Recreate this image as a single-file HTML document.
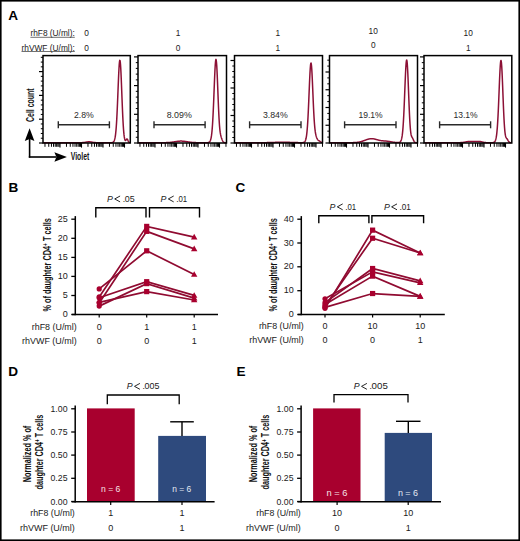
<!DOCTYPE html>
<html><head><meta charset="utf-8"><style>
html,body{margin:0;padding:0;background:#fff;}
svg{display:block;font-family:"Liberation Sans", sans-serif;}
</style></head><body>
<svg width="520" height="541" viewBox="0 0 520 541">
<rect width="520" height="541" fill="#fff"/>
<rect x="0.8" y="0.8" width="518.4" height="539.4" fill="none" stroke="#000" stroke-width="1.6"/>
<text x="8.2" y="19.6" font-size="13.6" text-anchor="start" font-weight="bold" fill="#000" >A</text>
<text x="8.6" y="191.5" font-size="13.6" text-anchor="start" font-weight="bold" fill="#000" >B</text>
<text x="235.6" y="191.8" font-size="13.6" text-anchor="start" font-weight="bold" fill="#000" >C</text>
<text x="8.3" y="375.5" font-size="13.6" text-anchor="start" font-weight="bold" fill="#000" >D</text>
<text x="236.4" y="375.5" font-size="13.6" text-anchor="start" font-weight="bold" fill="#000" >E</text>
<text x="74.8" y="36.4" font-size="8.3" text-anchor="end" font-weight="normal" fill="#1a1a1a" textLength="44.4" lengthAdjust="spacingAndGlyphs" >rhF8 (U/ml):</text>
<text x="74.8" y="50.7" font-size="8.3" text-anchor="end" font-weight="normal" fill="#1a1a1a" textLength="53.3" lengthAdjust="spacingAndGlyphs" >rhVWF (U/ml):</text>
<line x1="30.4" y1="37.3" x2="74.8" y2="37.3" stroke="#333" stroke-width="0.7"/>
<line x1="21.5" y1="51.5" x2="74.8" y2="51.5" stroke="#333" stroke-width="0.7"/>
<text x="86.5" y="36.4" font-size="8.3" text-anchor="middle" font-weight="normal" fill="#1a1a1a" >0</text>
<text x="86.5" y="50.7" font-size="8.3" text-anchor="middle" font-weight="normal" fill="#1a1a1a" >0</text>
<text x="178.0" y="36.4" font-size="8.3" text-anchor="middle" font-weight="normal" fill="#1a1a1a" >1</text>
<text x="178.0" y="50.7" font-size="8.3" text-anchor="middle" font-weight="normal" fill="#1a1a1a" >0</text>
<text x="277.7" y="36.4" font-size="8.3" text-anchor="middle" font-weight="normal" fill="#1a1a1a" >1</text>
<text x="277.7" y="50.7" font-size="8.3" text-anchor="middle" font-weight="normal" fill="#1a1a1a" >1</text>
<text x="373.2" y="33.8" font-size="8.3" text-anchor="middle" font-weight="normal" fill="#1a1a1a" >10</text>
<text x="373.2" y="48.3" font-size="8.3" text-anchor="middle" font-weight="normal" fill="#1a1a1a" >0</text>
<text x="468.2" y="36.1" font-size="8.3" text-anchor="middle" font-weight="normal" fill="#1a1a1a" >10</text>
<text x="468.2" y="50.6" font-size="8.3" text-anchor="middle" font-weight="normal" fill="#1a1a1a" >1</text>
<path d="M43.25,142.70 L43.50,142.70 L43.75,142.70 L44.00,142.70 L44.25,142.70 L44.50,142.70 L44.75,142.70 L45.00,142.70 L45.25,142.70 L45.50,142.70 L45.75,142.70 L46.00,142.70 L46.25,142.70 L46.50,142.70 L46.75,142.70 L47.00,142.70 L47.25,142.70 L47.50,142.70 L47.75,142.70 L48.00,142.70 L48.25,142.70 L48.50,142.70 L48.75,142.70 L49.00,142.70 L49.25,142.70 L49.50,142.70 L49.75,142.70 L50.00,142.70 L50.25,142.70 L50.50,142.70 L50.75,142.70 L51.00,142.70 L51.25,142.70 L51.50,142.70 L51.75,142.70 L52.00,142.70 L52.25,142.70 L52.50,142.70 L52.75,142.70 L53.00,142.70 L53.25,142.70 L53.50,142.70 L53.75,142.70 L54.00,142.70 L54.25,142.70 L54.50,142.70 L54.75,142.70 L55.00,142.70 L55.25,142.70 L55.50,142.70 L55.75,142.70 L56.00,142.70 L56.25,142.70 L56.50,142.70 L56.75,142.70 L57.00,142.70 L57.25,142.70 L57.50,142.70 L57.75,142.70 L58.00,142.70 L58.25,142.70 L58.50,142.70 L58.75,142.70 L59.00,142.70 L59.25,142.70 L59.50,142.70 L59.75,142.70 L60.00,142.70 L60.25,142.70 L60.50,142.70 L60.75,142.70 L61.00,142.70 L61.25,142.70 L61.50,142.70 L61.75,142.70 L62.00,142.70 L62.25,142.70 L62.50,142.70 L62.75,142.70 L63.00,142.70 L63.25,142.70 L63.50,142.70 L63.75,142.70 L64.00,142.70 L64.25,142.70 L64.50,142.70 L64.75,142.70 L65.00,142.70 L65.25,142.70 L65.50,142.70 L65.75,142.70 L66.00,142.70 L66.25,142.70 L66.50,142.70 L66.75,142.70 L67.00,142.70 L67.25,142.70 L67.50,142.70 L67.75,142.70 L68.00,142.70 L68.25,142.70 L68.50,142.70 L68.75,142.70 L69.00,142.70 L69.25,142.70 L69.50,142.70 L69.75,142.70 L70.00,142.70 L70.25,142.70 L70.50,142.70 L70.75,142.70 L71.00,142.70 L71.25,142.70 L71.50,142.70 L71.75,142.70 L72.00,142.70 L72.25,142.70 L72.50,142.70 L72.75,142.70 L73.00,142.70 L73.25,142.70 L73.50,142.70 L73.75,142.70 L74.00,142.70 L74.25,142.70 L74.50,142.70 L74.75,142.70 L75.00,142.70 L75.25,142.70 L75.50,142.70 L75.75,142.70 L76.00,142.70 L76.25,142.70 L76.50,142.70 L76.75,142.70 L77.00,142.70 L77.25,142.70 L77.50,142.70 L77.75,142.70 L78.00,142.70 L78.25,142.70 L78.50,142.70 L78.75,142.70 L79.00,142.70 L79.25,142.70 L79.50,142.69 L79.75,142.69 L80.00,142.69 L80.25,142.69 L80.50,142.68 L80.75,142.68 L81.00,142.67 L81.25,142.67 L81.50,142.66 L81.75,142.65 L82.00,142.64 L82.25,142.63 L82.50,142.61 L82.75,142.60 L83.00,142.58 L83.25,142.56 L83.50,142.53 L83.75,142.51 L84.00,142.48 L84.25,142.44 L84.50,142.41 L84.75,142.37 L85.00,142.33 L85.25,142.29 L85.50,142.24 L85.75,142.20 L86.00,142.15 L86.25,142.11 L86.50,142.06 L86.75,142.02 L87.00,141.98 L87.25,141.94 L87.50,141.91 L87.75,141.87 L88.00,141.85 L88.25,141.83 L88.50,141.81 L88.75,141.80 L89.00,141.80 L89.25,141.80 L89.50,141.81 L89.75,141.83 L90.00,141.85 L90.25,141.87 L90.50,141.91 L90.75,141.94 L91.00,141.98 L91.25,142.02 L91.50,142.06 L91.75,142.11 L92.00,142.15 L92.25,142.20 L92.50,142.24 L92.75,142.29 L93.00,142.33 L93.25,142.37 L93.50,142.41 L93.75,142.44 L94.00,142.48 L94.25,142.51 L94.50,142.53 L94.75,142.56 L95.00,142.58 L95.25,142.60 L95.50,142.61 L95.75,142.63 L96.00,142.64 L96.25,142.65 L96.50,142.66 L96.75,142.67 L97.00,142.67 L97.25,142.68 L97.50,142.68 L97.75,142.69 L98.00,142.69 L98.25,142.69 L98.50,142.69 L98.75,142.70 L99.00,142.70 L99.25,142.70 L99.50,142.70 L99.75,142.70 L100.00,142.70 L100.25,142.70 L100.50,142.70 L100.75,142.70 L101.00,142.70 L101.25,142.70 L101.50,142.70 L101.75,142.70 L102.00,142.70 L102.25,142.70 L102.50,142.70 L102.75,142.70 L103.00,142.70 L103.25,142.70 L103.50,142.70 L103.75,142.70 L104.00,142.70 L104.25,142.70 L104.50,142.70 L104.75,142.70 L105.00,142.70 L105.25,142.70 L105.50,142.70 L105.75,142.70 L106.00,142.70 L106.25,142.70 L106.50,142.70 L106.75,142.70 L107.00,142.70 L107.25,142.70 L107.50,142.70 L107.75,142.70 L108.00,142.70 L108.25,142.70 L108.50,142.70 L108.75,142.70 L109.00,142.70 L109.25,142.70 L109.50,142.70 L109.75,142.70 L110.00,142.70 L110.25,142.70 L110.50,142.69 L110.75,142.69 L111.00,142.68 L111.25,142.67 L111.50,142.65 L111.75,142.63 L112.00,142.59 L112.25,142.54 L112.50,142.47 L112.75,142.37 L113.00,142.24 L113.25,142.06 L113.50,141.83 L113.75,141.52 L114.00,141.11 L114.25,140.58 L114.50,139.90 L114.75,139.03 L115.00,137.92 L115.25,136.53 L115.50,134.80 L115.75,132.67 L116.00,130.08 L116.25,126.98 L116.50,123.33 L116.75,119.11 L117.00,114.32 L117.25,109.00 L117.50,103.22 L117.75,97.11 L118.00,90.82 L118.25,84.55 L118.50,78.53 L118.75,73.01 L119.00,68.22 L119.25,64.40 L119.50,61.74 L119.75,60.37 L120.00,60.38 L120.25,61.77 L120.50,64.47 L120.75,68.37 L121.00,73.27 L121.25,78.95 L121.50,85.17 L121.75,91.66 L122.00,98.20 L122.25,104.56 L122.50,110.57 L122.75,116.10 L123.00,121.05 L123.25,125.39 L123.50,129.08 L123.75,132.17 L124.00,134.68 L124.25,136.66 L124.50,138.17 L124.75,139.26 L125.00,139.98 L125.25,140.37 L125.50,140.47 L125.75,140.34 L126.00,140.04 L126.25,139.68 L126.50,139.33 L126.75,139.09 L127.00,139.02 L127.25,139.16 L127.50,139.50 L127.75,139.97 L128.00,140.51 L128.25,141.05 L128.50,141.53 L128.75,141.92 L129.00,142.21 L129.25,142.41 L129.50,142.54 L129.75,142.62 L130.00,142.66" fill="none" stroke="#8c1035" stroke-width="1.5" stroke-linejoin="round"/>
<rect x="43.0" y="55.6" width="87.30000000000001" height="87.4" fill="none" stroke="#000" stroke-width="1.5"/>
<line x1="39.0" y1="143.0" x2="43.0" y2="143.0" stroke="#000" stroke-width="1.2"/>
<line x1="40.8" y1="138.24" x2="43.0" y2="138.24" stroke="#000" stroke-width="1.0"/>
<line x1="40.8" y1="133.48" x2="43.0" y2="133.48" stroke="#000" stroke-width="1.0"/>
<line x1="40.8" y1="128.72" x2="43.0" y2="128.72" stroke="#000" stroke-width="1.0"/>
<line x1="40.8" y1="123.96000000000001" x2="43.0" y2="123.96000000000001" stroke="#000" stroke-width="1.0"/>
<line x1="39.0" y1="119.2" x2="43.0" y2="119.2" stroke="#000" stroke-width="1.2"/>
<line x1="40.8" y1="114.44" x2="43.0" y2="114.44" stroke="#000" stroke-width="1.0"/>
<line x1="40.8" y1="109.68" x2="43.0" y2="109.68" stroke="#000" stroke-width="1.0"/>
<line x1="40.8" y1="104.92" x2="43.0" y2="104.92" stroke="#000" stroke-width="1.0"/>
<line x1="40.8" y1="100.16" x2="43.0" y2="100.16" stroke="#000" stroke-width="1.0"/>
<line x1="39.0" y1="95.4" x2="43.0" y2="95.4" stroke="#000" stroke-width="1.2"/>
<line x1="40.8" y1="90.64" x2="43.0" y2="90.64" stroke="#000" stroke-width="1.0"/>
<line x1="40.8" y1="85.88" x2="43.0" y2="85.88" stroke="#000" stroke-width="1.0"/>
<line x1="40.8" y1="81.12" x2="43.0" y2="81.12" stroke="#000" stroke-width="1.0"/>
<line x1="40.8" y1="76.36" x2="43.0" y2="76.36" stroke="#000" stroke-width="1.0"/>
<line x1="39.0" y1="71.60000000000001" x2="43.0" y2="71.60000000000001" stroke="#000" stroke-width="1.2"/>
<line x1="40.8" y1="66.84" x2="43.0" y2="66.84" stroke="#000" stroke-width="1.0"/>
<line x1="40.8" y1="62.08" x2="43.0" y2="62.08" stroke="#000" stroke-width="1.0"/>
<line x1="40.8" y1="57.32000000000001" x2="43.0" y2="57.32000000000001" stroke="#000" stroke-width="1.0"/>
<line x1="60.0" y1="143.0" x2="60.0" y2="147.6" stroke="#000" stroke-width="1.1"/>
<line x1="44.9721449067756" y1="143.0" x2="44.9721449067756" y2="146.8" stroke="#000" stroke-width="1.0"/>
<line x1="48.758106976472746" y1="143.0" x2="48.758106976472746" y2="146.8" stroke="#000" stroke-width="1.0"/>
<line x1="51.444289813551194" y1="143.0" x2="51.444289813551194" y2="146.8" stroke="#000" stroke-width="1.0"/>
<line x1="53.5278550932244" y1="143.0" x2="53.5278550932244" y2="146.8" stroke="#000" stroke-width="1.0"/>
<line x1="55.23025188324834" y1="143.0" x2="55.23025188324834" y2="146.8" stroke="#000" stroke-width="1.0"/>
<line x1="56.66960786030652" y1="143.0" x2="56.66960786030652" y2="146.8" stroke="#000" stroke-width="1.0"/>
<line x1="57.91643472032679" y1="143.0" x2="57.91643472032679" y2="146.8" stroke="#000" stroke-width="1.0"/>
<line x1="59.016213952945485" y1="143.0" x2="59.016213952945485" y2="146.8" stroke="#000" stroke-width="1.0"/>
<line x1="81.5" y1="143.0" x2="81.5" y2="147.6" stroke="#000" stroke-width="1.1"/>
<line x1="66.4721449067756" y1="143.0" x2="66.4721449067756" y2="146.8" stroke="#000" stroke-width="1.0"/>
<line x1="70.25810697647275" y1="143.0" x2="70.25810697647275" y2="146.8" stroke="#000" stroke-width="1.0"/>
<line x1="72.9442898135512" y1="143.0" x2="72.9442898135512" y2="146.8" stroke="#000" stroke-width="1.0"/>
<line x1="75.0278550932244" y1="143.0" x2="75.0278550932244" y2="146.8" stroke="#000" stroke-width="1.0"/>
<line x1="76.73025188324834" y1="143.0" x2="76.73025188324834" y2="146.8" stroke="#000" stroke-width="1.0"/>
<line x1="78.16960786030651" y1="143.0" x2="78.16960786030651" y2="146.8" stroke="#000" stroke-width="1.0"/>
<line x1="79.41643472032679" y1="143.0" x2="79.41643472032679" y2="146.8" stroke="#000" stroke-width="1.0"/>
<line x1="80.51621395294549" y1="143.0" x2="80.51621395294549" y2="146.8" stroke="#000" stroke-width="1.0"/>
<line x1="103.0" y1="143.0" x2="103.0" y2="147.6" stroke="#000" stroke-width="1.1"/>
<line x1="87.9721449067756" y1="143.0" x2="87.9721449067756" y2="146.8" stroke="#000" stroke-width="1.0"/>
<line x1="91.75810697647275" y1="143.0" x2="91.75810697647275" y2="146.8" stroke="#000" stroke-width="1.0"/>
<line x1="94.4442898135512" y1="143.0" x2="94.4442898135512" y2="146.8" stroke="#000" stroke-width="1.0"/>
<line x1="96.5278550932244" y1="143.0" x2="96.5278550932244" y2="146.8" stroke="#000" stroke-width="1.0"/>
<line x1="98.23025188324834" y1="143.0" x2="98.23025188324834" y2="146.8" stroke="#000" stroke-width="1.0"/>
<line x1="99.66960786030651" y1="143.0" x2="99.66960786030651" y2="146.8" stroke="#000" stroke-width="1.0"/>
<line x1="100.91643472032679" y1="143.0" x2="100.91643472032679" y2="146.8" stroke="#000" stroke-width="1.0"/>
<line x1="102.01621395294549" y1="143.0" x2="102.01621395294549" y2="146.8" stroke="#000" stroke-width="1.0"/>
<line x1="124.5" y1="143.0" x2="124.5" y2="147.6" stroke="#000" stroke-width="1.1"/>
<line x1="109.4721449067756" y1="143.0" x2="109.4721449067756" y2="146.8" stroke="#000" stroke-width="1.0"/>
<line x1="113.25810697647275" y1="143.0" x2="113.25810697647275" y2="146.8" stroke="#000" stroke-width="1.0"/>
<line x1="115.9442898135512" y1="143.0" x2="115.9442898135512" y2="146.8" stroke="#000" stroke-width="1.0"/>
<line x1="118.0278550932244" y1="143.0" x2="118.0278550932244" y2="146.8" stroke="#000" stroke-width="1.0"/>
<line x1="119.73025188324834" y1="143.0" x2="119.73025188324834" y2="146.8" stroke="#000" stroke-width="1.0"/>
<line x1="121.16960786030651" y1="143.0" x2="121.16960786030651" y2="146.8" stroke="#000" stroke-width="1.0"/>
<line x1="122.41643472032679" y1="143.0" x2="122.41643472032679" y2="146.8" stroke="#000" stroke-width="1.0"/>
<line x1="123.51621395294549" y1="143.0" x2="123.51621395294549" y2="146.8" stroke="#000" stroke-width="1.0"/>
<line x1="58.3" y1="124.8" x2="109.4" y2="124.8" stroke="#2a2a2a" stroke-width="1.6"/>
<line x1="58.3" y1="121.3" x2="58.3" y2="128.3" stroke="#2a2a2a" stroke-width="1.4"/>
<line x1="109.4" y1="121.3" x2="109.4" y2="128.3" stroke="#2a2a2a" stroke-width="1.4"/>
<text x="74.0" y="117.5" font-size="9" text-anchor="start" font-weight="normal" fill="#2a2a2a" textLength="19.8" lengthAdjust="spacingAndGlyphs" >2.8%</text>
<path d="M138.25,142.70 L138.50,142.70 L138.75,142.70 L139.00,142.70 L139.25,142.70 L139.50,142.70 L139.75,142.70 L140.00,142.70 L140.25,142.70 L140.50,142.70 L140.75,142.70 L141.00,142.70 L141.25,142.70 L141.50,142.70 L141.75,142.70 L142.00,142.70 L142.25,142.70 L142.50,142.70 L142.75,142.70 L143.00,142.70 L143.25,142.70 L143.50,142.70 L143.75,142.70 L144.00,142.70 L144.25,142.70 L144.50,142.70 L144.75,142.70 L145.00,142.70 L145.25,142.70 L145.50,142.70 L145.75,142.70 L146.00,142.70 L146.25,142.70 L146.50,142.70 L146.75,142.70 L147.00,142.70 L147.25,142.70 L147.50,142.70 L147.75,142.70 L148.00,142.70 L148.25,142.70 L148.50,142.70 L148.75,142.70 L149.00,142.70 L149.25,142.70 L149.50,142.70 L149.75,142.70 L150.00,142.70 L150.25,142.70 L150.50,142.70 L150.75,142.70 L151.00,142.70 L151.25,142.70 L151.50,142.70 L151.75,142.70 L152.00,142.70 L152.25,142.70 L152.50,142.70 L152.75,142.70 L153.00,142.70 L153.25,142.70 L153.50,142.70 L153.75,142.70 L154.00,142.70 L154.25,142.70 L154.50,142.70 L154.75,142.70 L155.00,142.70 L155.25,142.70 L155.50,142.70 L155.75,142.70 L156.00,142.70 L156.25,142.70 L156.50,142.70 L156.75,142.70 L157.00,142.70 L157.25,142.70 L157.50,142.70 L157.75,142.70 L158.00,142.70 L158.25,142.70 L158.50,142.70 L158.75,142.70 L159.00,142.70 L159.25,142.70 L159.50,142.70 L159.75,142.70 L160.00,142.70 L160.25,142.70 L160.50,142.70 L160.75,142.69 L161.00,142.69 L161.25,142.69 L161.50,142.69 L161.75,142.69 L162.00,142.69 L162.25,142.69 L162.50,142.69 L162.75,142.68 L163.00,142.68 L163.25,142.68 L163.50,142.68 L163.75,142.67 L164.00,142.67 L164.25,142.67 L164.50,142.66 L164.75,142.66 L165.00,142.65 L165.25,142.65 L165.50,142.64 L165.75,142.64 L166.00,142.63 L166.25,142.62 L166.50,142.61 L166.75,142.60 L167.00,142.59 L167.25,142.58 L167.50,142.57 L167.75,142.56 L168.00,142.55 L168.25,142.53 L168.50,142.52 L168.75,142.50 L169.00,142.48 L169.25,142.46 L169.50,142.45 L169.75,142.42 L170.00,142.40 L170.25,142.38 L170.50,142.35 L170.75,142.33 L171.00,142.30 L171.25,142.27 L171.50,142.24 L171.75,142.21 L172.00,142.18 L172.25,142.15 L172.50,142.11 L172.75,142.08 L173.00,142.04 L173.25,142.01 L173.50,141.97 L173.75,141.93 L174.00,141.89 L174.25,141.85 L174.50,141.81 L174.75,141.77 L175.00,141.73 L175.25,141.69 L175.50,141.65 L175.75,141.61 L176.00,141.57 L176.25,141.53 L176.50,141.49 L176.75,141.45 L177.00,141.42 L177.25,141.38 L177.50,141.35 L177.75,141.32 L178.00,141.29 L178.25,141.26 L178.50,141.23 L178.75,141.21 L179.00,141.19 L179.25,141.17 L179.50,141.15 L179.75,141.13 L180.00,141.12 L180.25,141.11 L180.50,141.11 L180.75,141.10 L181.00,141.10 L181.25,141.10 L181.50,141.11 L181.75,141.11 L182.00,141.12 L182.25,141.13 L182.50,141.15 L182.75,141.17 L183.00,141.19 L183.25,141.21 L183.50,141.23 L183.75,141.26 L184.00,141.29 L184.25,141.32 L184.50,141.35 L184.75,141.38 L185.00,141.42 L185.25,141.45 L185.50,141.49 L185.75,141.53 L186.00,141.57 L186.25,141.61 L186.50,141.65 L186.75,141.69 L187.00,141.73 L187.25,141.77 L187.50,141.81 L187.75,141.85 L188.00,141.89 L188.25,141.93 L188.50,141.97 L188.75,142.01 L189.00,142.04 L189.25,142.08 L189.50,142.11 L189.75,142.15 L190.00,142.18 L190.25,142.21 L190.50,142.24 L190.75,142.27 L191.00,142.30 L191.25,142.33 L191.50,142.35 L191.75,142.38 L192.00,142.40 L192.25,142.42 L192.50,142.45 L192.75,142.46 L193.00,142.48 L193.25,142.50 L193.50,142.52 L193.75,142.53 L194.00,142.55 L194.25,142.56 L194.50,142.57 L194.75,142.58 L195.00,142.59 L195.25,142.60 L195.50,142.61 L195.75,142.62 L196.00,142.63 L196.25,142.64 L196.50,142.64 L196.75,142.65 L197.00,142.65 L197.25,142.66 L197.50,142.66 L197.75,142.67 L198.00,142.67 L198.25,142.67 L198.50,142.68 L198.75,142.68 L199.00,142.68 L199.25,142.68 L199.50,142.69 L199.75,142.69 L200.00,142.69 L200.25,142.69 L200.50,142.69 L200.75,142.69 L201.00,142.69 L201.25,142.69 L201.50,142.70 L201.75,142.70 L202.00,142.70 L202.25,142.70 L202.50,142.70 L202.75,142.70 L203.00,142.70 L203.25,142.70 L203.50,142.70 L203.75,142.70 L204.00,142.70 L204.25,142.70 L204.50,142.70 L204.75,142.70 L205.00,142.70 L205.25,142.70 L205.50,142.70 L205.75,142.70 L206.00,142.70 L206.25,142.70 L206.50,142.69 L206.75,142.69 L207.00,142.68 L207.25,142.67 L207.50,142.66 L207.75,142.64 L208.00,142.61 L208.25,142.56 L208.50,142.50 L208.75,142.41 L209.00,142.29 L209.25,142.14 L209.50,141.92 L209.75,141.64 L210.00,141.27 L210.25,140.79 L210.50,140.17 L210.75,139.37 L211.00,138.35 L211.25,137.07 L211.50,135.46 L211.75,133.48 L212.00,131.06 L212.25,128.14 L212.50,124.69 L212.75,120.66 L213.00,116.05 L213.25,110.88 L213.50,105.22 L213.75,99.16 L214.00,92.86 L214.25,86.50 L214.50,80.29 L214.75,74.48 L215.00,69.32 L215.25,65.05 L215.50,61.87 L215.75,59.96 L216.00,59.40 L216.25,60.25 L216.50,62.46 L216.75,65.92 L217.00,70.47 L217.25,75.90 L217.50,81.95 L217.75,88.36 L218.00,94.87 L218.25,101.25 L218.50,107.28 L218.75,112.82 L219.00,117.75 L219.25,122.01 L219.50,125.59 L219.75,128.51 L220.00,130.85 L220.25,132.71 L220.50,134.17 L220.75,135.34 L221.00,136.31 L221.25,137.15 L221.50,137.92 L221.75,138.63 L222.00,139.31 L222.25,139.94 L222.50,140.51 L222.75,141.01 L223.00,141.44 L223.25,141.79 L223.50,142.07 L223.75,142.27 L224.00,142.42 L224.25,142.53 L224.50,142.59 L224.75,142.64 L225.00,142.67 L225.25,142.68 L225.50,142.69 L225.75,142.70 L226.00,142.70 L226.25,142.70" fill="none" stroke="#8c1035" stroke-width="1.5" stroke-linejoin="round"/>
<rect x="138.0" y="55.6" width="88.5" height="87.4" fill="none" stroke="#000" stroke-width="1.5"/>
<line x1="134.0" y1="143.0" x2="138.0" y2="143.0" stroke="#000" stroke-width="1.2"/>
<line x1="135.8" y1="137.26" x2="138.0" y2="137.26" stroke="#000" stroke-width="1.0"/>
<line x1="135.8" y1="131.52" x2="138.0" y2="131.52" stroke="#000" stroke-width="1.0"/>
<line x1="135.8" y1="125.78" x2="138.0" y2="125.78" stroke="#000" stroke-width="1.0"/>
<line x1="135.8" y1="120.03999999999999" x2="138.0" y2="120.03999999999999" stroke="#000" stroke-width="1.0"/>
<line x1="134.0" y1="114.3" x2="138.0" y2="114.3" stroke="#000" stroke-width="1.2"/>
<line x1="135.8" y1="108.56" x2="138.0" y2="108.56" stroke="#000" stroke-width="1.0"/>
<line x1="135.8" y1="102.82" x2="138.0" y2="102.82" stroke="#000" stroke-width="1.0"/>
<line x1="135.8" y1="97.08" x2="138.0" y2="97.08" stroke="#000" stroke-width="1.0"/>
<line x1="135.8" y1="91.34" x2="138.0" y2="91.34" stroke="#000" stroke-width="1.0"/>
<line x1="134.0" y1="85.6" x2="138.0" y2="85.6" stroke="#000" stroke-width="1.2"/>
<line x1="135.8" y1="79.86" x2="138.0" y2="79.86" stroke="#000" stroke-width="1.0"/>
<line x1="135.8" y1="74.12" x2="138.0" y2="74.12" stroke="#000" stroke-width="1.0"/>
<line x1="135.8" y1="68.38" x2="138.0" y2="68.38" stroke="#000" stroke-width="1.0"/>
<line x1="135.8" y1="62.64" x2="138.0" y2="62.64" stroke="#000" stroke-width="1.0"/>
<line x1="134.0" y1="56.89999999999999" x2="138.0" y2="56.89999999999999" stroke="#000" stroke-width="1.2"/>
<line x1="155.0" y1="143.0" x2="155.0" y2="147.6" stroke="#000" stroke-width="1.1"/>
<line x1="139.97214490677558" y1="143.0" x2="139.97214490677558" y2="146.8" stroke="#000" stroke-width="1.0"/>
<line x1="143.75810697647273" y1="143.0" x2="143.75810697647273" y2="146.8" stroke="#000" stroke-width="1.0"/>
<line x1="146.4442898135512" y1="143.0" x2="146.4442898135512" y2="146.8" stroke="#000" stroke-width="1.0"/>
<line x1="148.52785509322442" y1="143.0" x2="148.52785509322442" y2="146.8" stroke="#000" stroke-width="1.0"/>
<line x1="150.23025188324834" y1="143.0" x2="150.23025188324834" y2="146.8" stroke="#000" stroke-width="1.0"/>
<line x1="151.6696078603065" y1="143.0" x2="151.6696078603065" y2="146.8" stroke="#000" stroke-width="1.0"/>
<line x1="152.91643472032678" y1="143.0" x2="152.91643472032678" y2="146.8" stroke="#000" stroke-width="1.0"/>
<line x1="154.0162139529455" y1="143.0" x2="154.0162139529455" y2="146.8" stroke="#000" stroke-width="1.0"/>
<line x1="176.5" y1="143.0" x2="176.5" y2="147.6" stroke="#000" stroke-width="1.1"/>
<line x1="161.47214490677558" y1="143.0" x2="161.47214490677558" y2="146.8" stroke="#000" stroke-width="1.0"/>
<line x1="165.25810697647273" y1="143.0" x2="165.25810697647273" y2="146.8" stroke="#000" stroke-width="1.0"/>
<line x1="167.9442898135512" y1="143.0" x2="167.9442898135512" y2="146.8" stroke="#000" stroke-width="1.0"/>
<line x1="170.02785509322442" y1="143.0" x2="170.02785509322442" y2="146.8" stroke="#000" stroke-width="1.0"/>
<line x1="171.73025188324834" y1="143.0" x2="171.73025188324834" y2="146.8" stroke="#000" stroke-width="1.0"/>
<line x1="173.1696078603065" y1="143.0" x2="173.1696078603065" y2="146.8" stroke="#000" stroke-width="1.0"/>
<line x1="174.41643472032678" y1="143.0" x2="174.41643472032678" y2="146.8" stroke="#000" stroke-width="1.0"/>
<line x1="175.5162139529455" y1="143.0" x2="175.5162139529455" y2="146.8" stroke="#000" stroke-width="1.0"/>
<line x1="198.0" y1="143.0" x2="198.0" y2="147.6" stroke="#000" stroke-width="1.1"/>
<line x1="182.97214490677558" y1="143.0" x2="182.97214490677558" y2="146.8" stroke="#000" stroke-width="1.0"/>
<line x1="186.75810697647273" y1="143.0" x2="186.75810697647273" y2="146.8" stroke="#000" stroke-width="1.0"/>
<line x1="189.4442898135512" y1="143.0" x2="189.4442898135512" y2="146.8" stroke="#000" stroke-width="1.0"/>
<line x1="191.52785509322442" y1="143.0" x2="191.52785509322442" y2="146.8" stroke="#000" stroke-width="1.0"/>
<line x1="193.23025188324834" y1="143.0" x2="193.23025188324834" y2="146.8" stroke="#000" stroke-width="1.0"/>
<line x1="194.6696078603065" y1="143.0" x2="194.6696078603065" y2="146.8" stroke="#000" stroke-width="1.0"/>
<line x1="195.91643472032678" y1="143.0" x2="195.91643472032678" y2="146.8" stroke="#000" stroke-width="1.0"/>
<line x1="197.0162139529455" y1="143.0" x2="197.0162139529455" y2="146.8" stroke="#000" stroke-width="1.0"/>
<line x1="219.5" y1="143.0" x2="219.5" y2="147.6" stroke="#000" stroke-width="1.1"/>
<line x1="204.47214490677558" y1="143.0" x2="204.47214490677558" y2="146.8" stroke="#000" stroke-width="1.0"/>
<line x1="208.25810697647273" y1="143.0" x2="208.25810697647273" y2="146.8" stroke="#000" stroke-width="1.0"/>
<line x1="210.9442898135512" y1="143.0" x2="210.9442898135512" y2="146.8" stroke="#000" stroke-width="1.0"/>
<line x1="213.02785509322442" y1="143.0" x2="213.02785509322442" y2="146.8" stroke="#000" stroke-width="1.0"/>
<line x1="214.73025188324834" y1="143.0" x2="214.73025188324834" y2="146.8" stroke="#000" stroke-width="1.0"/>
<line x1="216.1696078603065" y1="143.0" x2="216.1696078603065" y2="146.8" stroke="#000" stroke-width="1.0"/>
<line x1="217.41643472032678" y1="143.0" x2="217.41643472032678" y2="146.8" stroke="#000" stroke-width="1.0"/>
<line x1="218.5162139529455" y1="143.0" x2="218.5162139529455" y2="146.8" stroke="#000" stroke-width="1.0"/>
<line x1="225.97214490677558" y1="143.0" x2="225.97214490677558" y2="146.8" stroke="#000" stroke-width="1.0"/>
<line x1="154.0" y1="124.8" x2="205.1" y2="124.8" stroke="#2a2a2a" stroke-width="1.6"/>
<line x1="154.0" y1="121.3" x2="154.0" y2="128.3" stroke="#2a2a2a" stroke-width="1.4"/>
<line x1="205.1" y1="121.3" x2="205.1" y2="128.3" stroke="#2a2a2a" stroke-width="1.4"/>
<text x="166.7" y="117.5" font-size="9" text-anchor="start" font-weight="normal" fill="#2a2a2a" textLength="25.1" lengthAdjust="spacingAndGlyphs" >8.09%</text>
<path d="M234.75,142.70 L235.00,142.70 L235.25,142.70 L235.50,142.70 L235.75,142.70 L236.00,142.70 L236.25,142.70 L236.50,142.70 L236.75,142.70 L237.00,142.70 L237.25,142.70 L237.50,142.70 L237.75,142.70 L238.00,142.70 L238.25,142.70 L238.50,142.70 L238.75,142.70 L239.00,142.70 L239.25,142.70 L239.50,142.70 L239.75,142.70 L240.00,142.70 L240.25,142.70 L240.50,142.70 L240.75,142.70 L241.00,142.70 L241.25,142.70 L241.50,142.70 L241.75,142.70 L242.00,142.70 L242.25,142.70 L242.50,142.70 L242.75,142.70 L243.00,142.70 L243.25,142.70 L243.50,142.70 L243.75,142.70 L244.00,142.70 L244.25,142.70 L244.50,142.70 L244.75,142.70 L245.00,142.70 L245.25,142.70 L245.50,142.70 L245.75,142.70 L246.00,142.70 L246.25,142.70 L246.50,142.70 L246.75,142.70 L247.00,142.70 L247.25,142.70 L247.50,142.70 L247.75,142.70 L248.00,142.70 L248.25,142.70 L248.50,142.70 L248.75,142.70 L249.00,142.70 L249.25,142.70 L249.50,142.70 L249.75,142.70 L250.00,142.70 L250.25,142.70 L250.50,142.70 L250.75,142.70 L251.00,142.70 L251.25,142.70 L251.50,142.70 L251.75,142.70 L252.00,142.70 L252.25,142.70 L252.50,142.70 L252.75,142.70 L253.00,142.70 L253.25,142.70 L253.50,142.70 L253.75,142.70 L254.00,142.70 L254.25,142.70 L254.50,142.70 L254.75,142.70 L255.00,142.70 L255.25,142.70 L255.50,142.70 L255.75,142.70 L256.00,142.70 L256.25,142.70 L256.50,142.70 L256.75,142.70 L257.00,142.70 L257.25,142.70 L257.50,142.70 L257.75,142.70 L258.00,142.70 L258.25,142.69 L258.50,142.69 L258.75,142.69 L259.00,142.69 L259.25,142.69 L259.50,142.69 L259.75,142.69 L260.00,142.69 L260.25,142.69 L260.50,142.69 L260.75,142.69 L261.00,142.69 L261.25,142.69 L261.50,142.68 L261.75,142.68 L262.00,142.68 L262.25,142.68 L262.50,142.68 L262.75,142.68 L263.00,142.67 L263.25,142.67 L263.50,142.67 L263.75,142.67 L264.00,142.67 L264.25,142.66 L264.50,142.66 L264.75,142.66 L265.00,142.65 L265.25,142.65 L265.50,142.65 L265.75,142.64 L266.00,142.64 L266.25,142.64 L266.50,142.63 L266.75,142.63 L267.00,142.62 L267.25,142.62 L267.50,142.61 L267.75,142.61 L268.00,142.60 L268.25,142.60 L268.50,142.59 L268.75,142.59 L269.00,142.58 L269.25,142.57 L269.50,142.57 L269.75,142.56 L270.00,142.55 L270.25,142.55 L270.50,142.54 L270.75,142.53 L271.00,142.52 L271.25,142.51 L271.50,142.51 L271.75,142.50 L272.00,142.49 L272.25,142.48 L272.50,142.47 L272.75,142.46 L273.00,142.45 L273.25,142.44 L273.50,142.43 L273.75,142.43 L274.00,142.42 L274.25,142.41 L274.50,142.40 L274.75,142.39 L275.00,142.38 L275.25,142.37 L275.50,142.36 L275.75,142.35 L276.00,142.34 L276.25,142.33 L276.50,142.32 L276.75,142.31 L277.00,142.31 L277.25,142.30 L277.50,142.29 L277.75,142.28 L278.00,142.27 L278.25,142.27 L278.50,142.26 L278.75,142.25 L279.00,142.25 L279.25,142.24 L279.50,142.23 L279.75,142.23 L280.00,142.22 L280.25,142.22 L280.50,142.22 L280.75,142.21 L281.00,142.21 L281.25,142.21 L281.50,142.20 L281.75,142.20 L282.00,142.20 L282.25,142.20 L282.50,142.20 L282.75,142.20 L283.00,142.20 L283.25,142.20 L283.50,142.20 L283.75,142.21 L284.00,142.21 L284.25,142.21 L284.50,142.22 L284.75,142.22 L285.00,142.22 L285.25,142.23 L285.50,142.23 L285.75,142.24 L286.00,142.25 L286.25,142.25 L286.50,142.26 L286.75,142.27 L287.00,142.27 L287.25,142.28 L287.50,142.29 L287.75,142.30 L288.00,142.31 L288.25,142.31 L288.50,142.32 L288.75,142.33 L289.00,142.34 L289.25,142.35 L289.50,142.36 L289.75,142.37 L290.00,142.38 L290.25,142.39 L290.50,142.40 L290.75,142.41 L291.00,142.42 L291.25,142.43 L291.50,142.43 L291.75,142.44 L292.00,142.45 L292.25,142.46 L292.50,142.47 L292.75,142.48 L293.00,142.49 L293.25,142.50 L293.50,142.51 L293.75,142.51 L294.00,142.52 L294.25,142.53 L294.50,142.54 L294.75,142.55 L295.00,142.55 L295.25,142.56 L295.50,142.57 L295.75,142.57 L296.00,142.58 L296.25,142.59 L296.50,142.59 L296.75,142.60 L297.00,142.60 L297.25,142.61 L297.50,142.61 L297.75,142.62 L298.00,142.62 L298.25,142.63 L298.50,142.63 L298.75,142.64 L299.00,142.64 L299.25,142.64 L299.50,142.65 L299.75,142.65 L300.00,142.65 L300.25,142.66 L300.50,142.66 L300.75,142.66 L301.00,142.66 L301.25,142.66 L301.50,142.66 L301.75,142.66 L302.00,142.66 L302.25,142.65 L302.50,142.64 L302.75,142.62 L303.00,142.59 L303.25,142.55 L303.50,142.49 L303.75,142.41 L304.00,142.30 L304.25,142.15 L304.50,141.95 L304.75,141.68 L305.00,141.33 L305.25,140.87 L305.50,140.27 L305.75,139.51 L306.00,138.54 L306.25,137.31 L306.50,135.78 L306.75,133.89 L307.00,131.58 L307.25,128.79 L307.50,125.49 L307.75,121.64 L308.00,117.24 L308.25,112.30 L308.50,106.89 L308.75,101.11 L309.00,95.09 L309.25,89.01 L309.50,83.08 L309.75,77.53 L310.00,72.59 L310.25,68.50 L310.50,65.45 L310.75,63.60 L311.00,63.04 L311.25,63.80 L311.50,65.84 L311.75,69.06 L312.00,73.30 L312.25,78.33 L312.50,83.93 L312.75,89.85 L313.00,95.84 L313.25,101.70 L313.50,107.24 L313.75,112.33 L314.00,116.88 L314.25,120.86 L314.50,124.25 L314.75,127.11 L315.00,129.47 L315.25,131.42 L315.50,133.02 L315.75,134.34 L316.00,135.45 L316.25,136.38 L316.50,137.18 L316.75,137.86 L317.00,138.45 L317.25,138.95 L317.50,139.37 L317.75,139.71 L318.00,139.99 L318.25,140.23 L318.50,140.42 L318.75,140.59 L319.00,140.75 L319.25,140.91 L319.50,141.07 L319.75,141.23 L320.00,141.41 L320.25,141.58 L320.50,141.75 L320.75,141.92 L321.00,142.07 L321.25,142.21 L321.50,142.32 L321.75,142.42 L322.00,142.50 L322.25,142.56" fill="none" stroke="#8c1035" stroke-width="1.5" stroke-linejoin="round"/>
<rect x="234.5" y="55.6" width="88.0" height="87.4" fill="none" stroke="#000" stroke-width="1.5"/>
<line x1="230.5" y1="143.0" x2="234.5" y2="143.0" stroke="#000" stroke-width="1.2"/>
<line x1="232.3" y1="137.5" x2="234.5" y2="137.5" stroke="#000" stroke-width="1.0"/>
<line x1="232.3" y1="132.0" x2="234.5" y2="132.0" stroke="#000" stroke-width="1.0"/>
<line x1="232.3" y1="126.5" x2="234.5" y2="126.5" stroke="#000" stroke-width="1.0"/>
<line x1="232.3" y1="121.0" x2="234.5" y2="121.0" stroke="#000" stroke-width="1.0"/>
<line x1="230.5" y1="115.5" x2="234.5" y2="115.5" stroke="#000" stroke-width="1.2"/>
<line x1="232.3" y1="110.0" x2="234.5" y2="110.0" stroke="#000" stroke-width="1.0"/>
<line x1="232.3" y1="104.5" x2="234.5" y2="104.5" stroke="#000" stroke-width="1.0"/>
<line x1="232.3" y1="99.0" x2="234.5" y2="99.0" stroke="#000" stroke-width="1.0"/>
<line x1="232.3" y1="93.5" x2="234.5" y2="93.5" stroke="#000" stroke-width="1.0"/>
<line x1="230.5" y1="88.0" x2="234.5" y2="88.0" stroke="#000" stroke-width="1.2"/>
<line x1="232.3" y1="82.5" x2="234.5" y2="82.5" stroke="#000" stroke-width="1.0"/>
<line x1="232.3" y1="77.0" x2="234.5" y2="77.0" stroke="#000" stroke-width="1.0"/>
<line x1="232.3" y1="71.5" x2="234.5" y2="71.5" stroke="#000" stroke-width="1.0"/>
<line x1="232.3" y1="66.0" x2="234.5" y2="66.0" stroke="#000" stroke-width="1.0"/>
<line x1="230.5" y1="60.5" x2="234.5" y2="60.5" stroke="#000" stroke-width="1.2"/>
<line x1="251.5" y1="143.0" x2="251.5" y2="147.6" stroke="#000" stroke-width="1.1"/>
<line x1="236.47214490677558" y1="143.0" x2="236.47214490677558" y2="146.8" stroke="#000" stroke-width="1.0"/>
<line x1="240.25810697647273" y1="143.0" x2="240.25810697647273" y2="146.8" stroke="#000" stroke-width="1.0"/>
<line x1="242.9442898135512" y1="143.0" x2="242.9442898135512" y2="146.8" stroke="#000" stroke-width="1.0"/>
<line x1="245.02785509322442" y1="143.0" x2="245.02785509322442" y2="146.8" stroke="#000" stroke-width="1.0"/>
<line x1="246.73025188324834" y1="143.0" x2="246.73025188324834" y2="146.8" stroke="#000" stroke-width="1.0"/>
<line x1="248.1696078603065" y1="143.0" x2="248.1696078603065" y2="146.8" stroke="#000" stroke-width="1.0"/>
<line x1="249.41643472032678" y1="143.0" x2="249.41643472032678" y2="146.8" stroke="#000" stroke-width="1.0"/>
<line x1="250.5162139529455" y1="143.0" x2="250.5162139529455" y2="146.8" stroke="#000" stroke-width="1.0"/>
<line x1="273.0" y1="143.0" x2="273.0" y2="147.6" stroke="#000" stroke-width="1.1"/>
<line x1="257.9721449067756" y1="143.0" x2="257.9721449067756" y2="146.8" stroke="#000" stroke-width="1.0"/>
<line x1="261.75810697647273" y1="143.0" x2="261.75810697647273" y2="146.8" stroke="#000" stroke-width="1.0"/>
<line x1="264.44428981355117" y1="143.0" x2="264.44428981355117" y2="146.8" stroke="#000" stroke-width="1.0"/>
<line x1="266.5278550932244" y1="143.0" x2="266.5278550932244" y2="146.8" stroke="#000" stroke-width="1.0"/>
<line x1="268.23025188324834" y1="143.0" x2="268.23025188324834" y2="146.8" stroke="#000" stroke-width="1.0"/>
<line x1="269.66960786030654" y1="143.0" x2="269.66960786030654" y2="146.8" stroke="#000" stroke-width="1.0"/>
<line x1="270.9164347203268" y1="143.0" x2="270.9164347203268" y2="146.8" stroke="#000" stroke-width="1.0"/>
<line x1="272.01621395294546" y1="143.0" x2="272.01621395294546" y2="146.8" stroke="#000" stroke-width="1.0"/>
<line x1="294.5" y1="143.0" x2="294.5" y2="147.6" stroke="#000" stroke-width="1.1"/>
<line x1="279.4721449067756" y1="143.0" x2="279.4721449067756" y2="146.8" stroke="#000" stroke-width="1.0"/>
<line x1="283.25810697647273" y1="143.0" x2="283.25810697647273" y2="146.8" stroke="#000" stroke-width="1.0"/>
<line x1="285.94428981355117" y1="143.0" x2="285.94428981355117" y2="146.8" stroke="#000" stroke-width="1.0"/>
<line x1="288.0278550932244" y1="143.0" x2="288.0278550932244" y2="146.8" stroke="#000" stroke-width="1.0"/>
<line x1="289.73025188324834" y1="143.0" x2="289.73025188324834" y2="146.8" stroke="#000" stroke-width="1.0"/>
<line x1="291.16960786030654" y1="143.0" x2="291.16960786030654" y2="146.8" stroke="#000" stroke-width="1.0"/>
<line x1="292.4164347203268" y1="143.0" x2="292.4164347203268" y2="146.8" stroke="#000" stroke-width="1.0"/>
<line x1="293.51621395294546" y1="143.0" x2="293.51621395294546" y2="146.8" stroke="#000" stroke-width="1.0"/>
<line x1="316.0" y1="143.0" x2="316.0" y2="147.6" stroke="#000" stroke-width="1.1"/>
<line x1="300.9721449067756" y1="143.0" x2="300.9721449067756" y2="146.8" stroke="#000" stroke-width="1.0"/>
<line x1="304.75810697647273" y1="143.0" x2="304.75810697647273" y2="146.8" stroke="#000" stroke-width="1.0"/>
<line x1="307.44428981355117" y1="143.0" x2="307.44428981355117" y2="146.8" stroke="#000" stroke-width="1.0"/>
<line x1="309.5278550932244" y1="143.0" x2="309.5278550932244" y2="146.8" stroke="#000" stroke-width="1.0"/>
<line x1="311.23025188324834" y1="143.0" x2="311.23025188324834" y2="146.8" stroke="#000" stroke-width="1.0"/>
<line x1="312.66960786030654" y1="143.0" x2="312.66960786030654" y2="146.8" stroke="#000" stroke-width="1.0"/>
<line x1="313.9164347203268" y1="143.0" x2="313.9164347203268" y2="146.8" stroke="#000" stroke-width="1.0"/>
<line x1="315.01621395294546" y1="143.0" x2="315.01621395294546" y2="146.8" stroke="#000" stroke-width="1.0"/>
<line x1="322.4721449067756" y1="143.0" x2="322.4721449067756" y2="146.8" stroke="#000" stroke-width="1.0"/>
<line x1="249.6" y1="124.8" x2="301.0" y2="124.8" stroke="#2a2a2a" stroke-width="1.6"/>
<line x1="249.6" y1="121.3" x2="249.6" y2="128.3" stroke="#2a2a2a" stroke-width="1.4"/>
<line x1="301.0" y1="121.3" x2="301.0" y2="128.3" stroke="#2a2a2a" stroke-width="1.4"/>
<text x="262.9" y="117.5" font-size="9" text-anchor="start" font-weight="normal" fill="#2a2a2a" textLength="24.8" lengthAdjust="spacingAndGlyphs" >3.84%</text>
<path d="M329.75,142.70 L330.00,142.70 L330.25,142.70 L330.50,142.70 L330.75,142.70 L331.00,142.70 L331.25,142.70 L331.50,142.70 L331.75,142.70 L332.00,142.70 L332.25,142.70 L332.50,142.70 L332.75,142.70 L333.00,142.70 L333.25,142.70 L333.50,142.70 L333.75,142.70 L334.00,142.70 L334.25,142.70 L334.50,142.70 L334.75,142.70 L335.00,142.70 L335.25,142.70 L335.50,142.70 L335.75,142.70 L336.00,142.70 L336.25,142.70 L336.50,142.70 L336.75,142.70 L337.00,142.70 L337.25,142.70 L337.50,142.70 L337.75,142.70 L338.00,142.70 L338.25,142.70 L338.50,142.70 L338.75,142.70 L339.00,142.70 L339.25,142.70 L339.50,142.70 L339.75,142.70 L340.00,142.70 L340.25,142.70 L340.50,142.70 L340.75,142.70 L341.00,142.70 L341.25,142.70 L341.50,142.70 L341.75,142.70 L342.00,142.70 L342.25,142.70 L342.50,142.70 L342.75,142.70 L343.00,142.70 L343.25,142.70 L343.50,142.70 L343.75,142.70 L344.00,142.70 L344.25,142.70 L344.50,142.70 L344.75,142.70 L345.00,142.70 L345.25,142.70 L345.50,142.70 L345.75,142.70 L346.00,142.70 L346.25,142.70 L346.50,142.70 L346.75,142.70 L347.00,142.70 L347.25,142.70 L347.50,142.70 L347.75,142.69 L348.00,142.69 L348.25,142.69 L348.50,142.69 L348.75,142.69 L349.00,142.69 L349.25,142.69 L349.50,142.69 L349.75,142.69 L350.00,142.68 L350.25,142.68 L350.50,142.68 L350.75,142.68 L351.00,142.67 L351.25,142.67 L351.50,142.66 L351.75,142.66 L352.00,142.66 L352.25,142.65 L352.50,142.64 L352.75,142.64 L353.00,142.63 L353.25,142.62 L353.50,142.61 L353.75,142.60 L354.00,142.59 L354.25,142.58 L354.50,142.57 L354.75,142.56 L355.00,142.54 L355.25,142.52 L355.50,142.51 L355.75,142.49 L356.00,142.47 L356.25,142.44 L356.50,142.42 L356.75,142.40 L357.00,142.37 L357.25,142.34 L357.50,142.31 L357.75,142.27 L358.00,142.24 L358.25,142.20 L358.50,142.16 L358.75,142.12 L359.00,142.07 L359.25,142.02 L359.50,141.97 L359.75,141.92 L360.00,141.86 L360.25,141.81 L360.50,141.74 L360.75,141.68 L361.00,141.62 L361.25,141.55 L361.50,141.48 L361.75,141.40 L362.00,141.33 L362.25,141.25 L362.50,141.17 L362.75,141.08 L363.00,141.00 L363.25,140.91 L363.50,140.82 L363.75,140.73 L364.00,140.64 L364.25,140.55 L364.50,140.46 L364.75,140.37 L365.00,140.27 L365.25,140.18 L365.50,140.09 L365.75,139.99 L366.00,139.90 L366.25,139.81 L366.50,139.72 L366.75,139.64 L367.00,139.55 L367.25,139.47 L367.50,139.39 L367.75,139.31 L368.00,139.24 L368.25,139.17 L368.50,139.10 L368.75,139.04 L369.00,138.98 L369.25,138.93 L369.50,138.88 L369.75,138.84 L370.00,138.80 L370.25,138.77 L370.50,138.74 L370.75,138.72 L371.00,138.70 L371.25,138.69 L371.50,138.69 L371.75,138.69 L372.00,138.69 L372.25,138.70 L372.50,138.72 L372.75,138.74 L373.00,138.77 L373.25,138.80 L373.50,138.84 L373.75,138.88 L374.00,138.93 L374.25,138.98 L374.50,139.03 L374.75,139.09 L375.00,139.15 L375.25,139.21 L375.50,139.27 L375.75,139.34 L376.00,139.41 L376.25,139.48 L376.50,139.55 L376.75,139.62 L377.00,139.69 L377.25,139.76 L377.50,139.83 L377.75,139.90 L378.00,139.97 L378.25,140.03 L378.50,140.10 L378.75,140.16 L379.00,140.22 L379.25,140.28 L379.50,140.34 L379.75,140.39 L380.00,140.44 L380.25,140.49 L380.50,140.53 L380.75,140.58 L381.00,140.62 L381.25,140.65 L381.50,140.69 L381.75,140.72 L382.00,140.75 L382.25,140.78 L382.50,140.80 L382.75,140.82 L383.00,140.85 L383.25,140.87 L383.50,140.89 L383.75,140.91 L384.00,140.92 L384.25,140.94 L384.50,140.96 L384.75,140.98 L385.00,140.99 L385.25,141.01 L385.50,141.03 L385.75,141.05 L386.00,141.07 L386.25,141.10 L386.50,141.12 L386.75,141.15 L387.00,141.17 L387.25,141.20 L387.50,141.23 L387.75,141.26 L388.00,141.30 L388.25,141.33 L388.50,141.37 L388.75,141.41 L389.00,141.45 L389.25,141.49 L389.50,141.53 L389.75,141.57 L390.00,141.61 L390.25,141.66 L390.50,141.70 L390.75,141.74 L391.00,141.79 L391.25,141.83 L391.50,141.88 L391.75,141.92 L392.00,141.96 L392.25,142.00 L392.50,142.05 L392.75,142.09 L393.00,142.12 L393.25,142.16 L393.50,142.20 L393.75,142.23 L394.00,142.27 L394.25,142.30 L394.50,142.33 L394.75,142.36 L395.00,142.39 L395.25,142.41 L395.50,142.44 L395.75,142.46 L396.00,142.48 L396.25,142.50 L396.50,142.52 L396.75,142.54 L397.00,142.55 L397.25,142.56 L397.50,142.57 L397.75,142.58 L398.00,142.58 L398.25,142.57 L398.50,142.56 L398.75,142.53 L399.00,142.49 L399.25,142.43 L399.50,142.35 L399.75,142.23 L400.00,142.07 L400.25,141.85 L400.50,141.56 L400.75,141.17 L401.00,140.67 L401.25,140.02 L401.50,139.19 L401.75,138.13 L402.00,136.80 L402.25,135.14 L402.50,133.08 L402.75,130.59 L403.00,127.58 L403.25,124.04 L403.50,119.92 L403.75,115.22 L404.00,109.98 L404.25,104.27 L404.50,98.19 L404.75,91.89 L405.00,85.58 L405.25,79.47 L405.50,73.81 L405.75,68.84 L406.00,64.80 L406.25,61.88 L406.50,60.24 L406.75,59.96 L407.00,61.08 L407.25,63.54 L407.50,67.23 L407.75,71.96 L408.00,77.52 L408.25,83.67 L408.50,90.13 L408.75,96.68 L409.00,103.08 L409.25,109.13 L409.50,114.67 L409.75,119.61 L410.00,123.87 L410.25,127.42 L410.50,130.28 L410.75,132.49 L411.00,134.13 L411.25,135.30 L411.50,136.12 L411.75,136.70 L412.00,137.14 L412.25,137.55 L412.50,137.98 L412.75,138.45 L413.00,138.99 L413.25,139.56 L413.50,140.14 L413.75,140.69 L414.00,141.18 L414.25,141.60 L414.50,141.94 L414.75,142.19 L415.00,142.38 L415.25,142.50 L415.50,142.58 L415.75,142.63 L416.00,142.66 L416.25,142.68 L416.50,142.69 L416.75,142.70 L417.00,142.70 L417.25,142.70" fill="none" stroke="#8c1035" stroke-width="1.5" stroke-linejoin="round"/>
<rect x="329.5" y="55.6" width="88.0" height="87.4" fill="none" stroke="#000" stroke-width="1.5"/>
<line x1="325.5" y1="143.0" x2="329.5" y2="143.0" stroke="#000" stroke-width="1.2"/>
<line x1="327.3" y1="137.08333333333334" x2="329.5" y2="137.08333333333334" stroke="#000" stroke-width="1.0"/>
<line x1="327.3" y1="131.16666666666666" x2="329.5" y2="131.16666666666666" stroke="#000" stroke-width="1.0"/>
<line x1="325.5" y1="125.25" x2="329.5" y2="125.25" stroke="#000" stroke-width="1.2"/>
<line x1="327.3" y1="119.33333333333333" x2="329.5" y2="119.33333333333333" stroke="#000" stroke-width="1.0"/>
<line x1="327.3" y1="113.41666666666666" x2="329.5" y2="113.41666666666666" stroke="#000" stroke-width="1.0"/>
<line x1="325.5" y1="107.5" x2="329.5" y2="107.5" stroke="#000" stroke-width="1.2"/>
<line x1="327.3" y1="101.58333333333333" x2="329.5" y2="101.58333333333333" stroke="#000" stroke-width="1.0"/>
<line x1="327.3" y1="95.66666666666666" x2="329.5" y2="95.66666666666666" stroke="#000" stroke-width="1.0"/>
<line x1="325.5" y1="89.75" x2="329.5" y2="89.75" stroke="#000" stroke-width="1.2"/>
<line x1="327.3" y1="83.83333333333333" x2="329.5" y2="83.83333333333333" stroke="#000" stroke-width="1.0"/>
<line x1="327.3" y1="77.91666666666666" x2="329.5" y2="77.91666666666666" stroke="#000" stroke-width="1.0"/>
<line x1="325.5" y1="72.0" x2="329.5" y2="72.0" stroke="#000" stroke-width="1.2"/>
<line x1="327.3" y1="66.08333333333333" x2="329.5" y2="66.08333333333333" stroke="#000" stroke-width="1.0"/>
<line x1="327.3" y1="60.16666666666666" x2="329.5" y2="60.16666666666666" stroke="#000" stroke-width="1.0"/>
<line x1="346.5" y1="143.0" x2="346.5" y2="147.6" stroke="#000" stroke-width="1.1"/>
<line x1="331.4721449067756" y1="143.0" x2="331.4721449067756" y2="146.8" stroke="#000" stroke-width="1.0"/>
<line x1="335.25810697647273" y1="143.0" x2="335.25810697647273" y2="146.8" stroke="#000" stroke-width="1.0"/>
<line x1="337.94428981355117" y1="143.0" x2="337.94428981355117" y2="146.8" stroke="#000" stroke-width="1.0"/>
<line x1="340.0278550932244" y1="143.0" x2="340.0278550932244" y2="146.8" stroke="#000" stroke-width="1.0"/>
<line x1="341.73025188324834" y1="143.0" x2="341.73025188324834" y2="146.8" stroke="#000" stroke-width="1.0"/>
<line x1="343.16960786030654" y1="143.0" x2="343.16960786030654" y2="146.8" stroke="#000" stroke-width="1.0"/>
<line x1="344.4164347203268" y1="143.0" x2="344.4164347203268" y2="146.8" stroke="#000" stroke-width="1.0"/>
<line x1="345.51621395294546" y1="143.0" x2="345.51621395294546" y2="146.8" stroke="#000" stroke-width="1.0"/>
<line x1="368.0" y1="143.0" x2="368.0" y2="147.6" stroke="#000" stroke-width="1.1"/>
<line x1="352.9721449067756" y1="143.0" x2="352.9721449067756" y2="146.8" stroke="#000" stroke-width="1.0"/>
<line x1="356.75810697647273" y1="143.0" x2="356.75810697647273" y2="146.8" stroke="#000" stroke-width="1.0"/>
<line x1="359.44428981355117" y1="143.0" x2="359.44428981355117" y2="146.8" stroke="#000" stroke-width="1.0"/>
<line x1="361.5278550932244" y1="143.0" x2="361.5278550932244" y2="146.8" stroke="#000" stroke-width="1.0"/>
<line x1="363.23025188324834" y1="143.0" x2="363.23025188324834" y2="146.8" stroke="#000" stroke-width="1.0"/>
<line x1="364.66960786030654" y1="143.0" x2="364.66960786030654" y2="146.8" stroke="#000" stroke-width="1.0"/>
<line x1="365.9164347203268" y1="143.0" x2="365.9164347203268" y2="146.8" stroke="#000" stroke-width="1.0"/>
<line x1="367.01621395294546" y1="143.0" x2="367.01621395294546" y2="146.8" stroke="#000" stroke-width="1.0"/>
<line x1="389.5" y1="143.0" x2="389.5" y2="147.6" stroke="#000" stroke-width="1.1"/>
<line x1="374.4721449067756" y1="143.0" x2="374.4721449067756" y2="146.8" stroke="#000" stroke-width="1.0"/>
<line x1="378.25810697647273" y1="143.0" x2="378.25810697647273" y2="146.8" stroke="#000" stroke-width="1.0"/>
<line x1="380.94428981355117" y1="143.0" x2="380.94428981355117" y2="146.8" stroke="#000" stroke-width="1.0"/>
<line x1="383.0278550932244" y1="143.0" x2="383.0278550932244" y2="146.8" stroke="#000" stroke-width="1.0"/>
<line x1="384.73025188324834" y1="143.0" x2="384.73025188324834" y2="146.8" stroke="#000" stroke-width="1.0"/>
<line x1="386.16960786030654" y1="143.0" x2="386.16960786030654" y2="146.8" stroke="#000" stroke-width="1.0"/>
<line x1="387.4164347203268" y1="143.0" x2="387.4164347203268" y2="146.8" stroke="#000" stroke-width="1.0"/>
<line x1="388.51621395294546" y1="143.0" x2="388.51621395294546" y2="146.8" stroke="#000" stroke-width="1.0"/>
<line x1="411.0" y1="143.0" x2="411.0" y2="147.6" stroke="#000" stroke-width="1.1"/>
<line x1="395.9721449067756" y1="143.0" x2="395.9721449067756" y2="146.8" stroke="#000" stroke-width="1.0"/>
<line x1="399.75810697647273" y1="143.0" x2="399.75810697647273" y2="146.8" stroke="#000" stroke-width="1.0"/>
<line x1="402.44428981355117" y1="143.0" x2="402.44428981355117" y2="146.8" stroke="#000" stroke-width="1.0"/>
<line x1="404.5278550932244" y1="143.0" x2="404.5278550932244" y2="146.8" stroke="#000" stroke-width="1.0"/>
<line x1="406.23025188324834" y1="143.0" x2="406.23025188324834" y2="146.8" stroke="#000" stroke-width="1.0"/>
<line x1="407.66960786030654" y1="143.0" x2="407.66960786030654" y2="146.8" stroke="#000" stroke-width="1.0"/>
<line x1="408.9164347203268" y1="143.0" x2="408.9164347203268" y2="146.8" stroke="#000" stroke-width="1.0"/>
<line x1="410.01621395294546" y1="143.0" x2="410.01621395294546" y2="146.8" stroke="#000" stroke-width="1.0"/>
<line x1="417.4721449067756" y1="143.0" x2="417.4721449067756" y2="146.8" stroke="#000" stroke-width="1.0"/>
<line x1="344.6" y1="124.8" x2="396.0" y2="124.8" stroke="#2a2a2a" stroke-width="1.6"/>
<line x1="344.6" y1="121.3" x2="344.6" y2="128.3" stroke="#2a2a2a" stroke-width="1.4"/>
<line x1="396.0" y1="121.3" x2="396.0" y2="128.3" stroke="#2a2a2a" stroke-width="1.4"/>
<text x="358.5" y="117.5" font-size="9" text-anchor="start" font-weight="normal" fill="#2a2a2a" textLength="24.2" lengthAdjust="spacingAndGlyphs" >19.1%</text>
<path d="M424.25,142.70 L424.50,142.70 L424.75,142.70 L425.00,142.70 L425.25,142.70 L425.50,142.70 L425.75,142.70 L426.00,142.70 L426.25,142.70 L426.50,142.70 L426.75,142.70 L427.00,142.70 L427.25,142.70 L427.50,142.70 L427.75,142.70 L428.00,142.70 L428.25,142.70 L428.50,142.70 L428.75,142.70 L429.00,142.70 L429.25,142.70 L429.50,142.70 L429.75,142.70 L430.00,142.70 L430.25,142.70 L430.50,142.70 L430.75,142.70 L431.00,142.70 L431.25,142.70 L431.50,142.70 L431.75,142.70 L432.00,142.70 L432.25,142.70 L432.50,142.70 L432.75,142.70 L433.00,142.70 L433.25,142.70 L433.50,142.70 L433.75,142.70 L434.00,142.70 L434.25,142.70 L434.50,142.70 L434.75,142.70 L435.00,142.70 L435.25,142.70 L435.50,142.70 L435.75,142.70 L436.00,142.70 L436.25,142.70 L436.50,142.70 L436.75,142.70 L437.00,142.70 L437.25,142.70 L437.50,142.70 L437.75,142.70 L438.00,142.70 L438.25,142.70 L438.50,142.70 L438.75,142.70 L439.00,142.70 L439.25,142.70 L439.50,142.70 L439.75,142.70 L440.00,142.70 L440.25,142.70 L440.50,142.70 L440.75,142.70 L441.00,142.70 L441.25,142.70 L441.50,142.70 L441.75,142.70 L442.00,142.70 L442.25,142.70 L442.50,142.70 L442.75,142.70 L443.00,142.70 L443.25,142.70 L443.50,142.70 L443.75,142.70 L444.00,142.70 L444.25,142.70 L444.50,142.70 L444.75,142.70 L445.00,142.70 L445.25,142.70 L445.50,142.70 L445.75,142.70 L446.00,142.70 L446.25,142.70 L446.50,142.70 L446.75,142.70 L447.00,142.70 L447.25,142.70 L447.50,142.70 L447.75,142.70 L448.00,142.70 L448.25,142.70 L448.50,142.70 L448.75,142.70 L449.00,142.70 L449.25,142.70 L449.50,142.70 L449.75,142.70 L450.00,142.70 L450.25,142.70 L450.50,142.70 L450.75,142.70 L451.00,142.70 L451.25,142.70 L451.50,142.70 L451.75,142.70 L452.00,142.70 L452.25,142.70 L452.50,142.70 L452.75,142.70 L453.00,142.70 L453.25,142.70 L453.50,142.70 L453.75,142.70 L454.00,142.70 L454.25,142.70 L454.50,142.70 L454.75,142.70 L455.00,142.70 L455.25,142.70 L455.50,142.70 L455.75,142.70 L456.00,142.70 L456.25,142.70 L456.50,142.70 L456.75,142.69 L457.00,142.69 L457.25,142.69 L457.50,142.69 L457.75,142.69 L458.00,142.69 L458.25,142.68 L458.50,142.68 L458.75,142.68 L459.00,142.67 L459.25,142.66 L459.50,142.66 L459.75,142.65 L460.00,142.64 L460.25,142.63 L460.50,142.62 L460.75,142.61 L461.00,142.60 L461.25,142.58 L461.50,142.56 L461.75,142.55 L462.00,142.52 L462.25,142.50 L462.50,142.48 L462.75,142.45 L463.00,142.42 L463.25,142.39 L463.50,142.35 L463.75,142.32 L464.00,142.28 L464.25,142.24 L464.50,142.19 L464.75,142.15 L465.00,142.10 L465.25,142.06 L465.50,142.01 L465.75,141.96 L466.00,141.91 L466.25,141.86 L466.50,141.81 L466.75,141.77 L467.00,141.72 L467.25,141.67 L467.50,141.63 L467.75,141.59 L468.00,141.55 L468.25,141.52 L468.50,141.49 L468.75,141.46 L469.00,141.44 L469.25,141.42 L469.50,141.40 L469.75,141.39 L470.00,141.39 L470.25,141.39 L470.50,141.39 L470.75,141.40 L471.00,141.41 L471.25,141.42 L471.50,141.44 L471.75,141.45 L472.00,141.47 L472.25,141.49 L472.50,141.52 L472.75,141.54 L473.00,141.56 L473.25,141.57 L473.50,141.59 L473.75,141.60 L474.00,141.61 L474.25,141.62 L474.50,141.62 L474.75,141.62 L475.00,141.61 L475.25,141.60 L475.50,141.59 L475.75,141.57 L476.00,141.55 L476.25,141.53 L476.50,141.50 L476.75,141.48 L477.00,141.46 L477.25,141.44 L477.50,141.42 L477.75,141.40 L478.00,141.39 L478.25,141.38 L478.50,141.38 L478.75,141.39 L479.00,141.40 L479.25,141.41 L479.50,141.44 L479.75,141.47 L480.00,141.51 L480.25,141.55 L480.50,141.60 L480.75,141.65 L481.00,141.71 L481.25,141.77 L481.50,141.83 L481.75,141.89 L482.00,141.96 L482.25,142.02 L482.50,142.08 L482.75,142.14 L483.00,142.20 L483.25,142.25 L483.50,142.31 L483.75,142.35 L484.00,142.40 L484.25,142.44 L484.50,142.47 L484.75,142.51 L485.00,142.54 L485.25,142.56 L485.50,142.58 L485.75,142.60 L486.00,142.62 L486.25,142.63 L486.50,142.65 L486.75,142.66 L487.00,142.67 L487.25,142.67 L487.50,142.68 L487.75,142.68 L488.00,142.69 L488.25,142.69 L488.50,142.69 L488.75,142.69 L489.00,142.70 L489.25,142.70 L489.50,142.70 L489.75,142.70 L490.00,142.70 L490.25,142.70 L490.50,142.70 L490.75,142.70 L491.00,142.70 L491.25,142.70 L491.50,142.69 L491.75,142.69 L492.00,142.68 L492.25,142.67 L492.50,142.66 L492.75,142.64 L493.00,142.61 L493.25,142.56 L493.50,142.50 L493.75,142.42 L494.00,142.30 L494.25,142.14 L494.50,141.93 L494.75,141.65 L495.00,141.29 L495.25,140.81 L495.50,140.20 L495.75,139.41 L496.00,138.40 L496.25,137.14 L496.50,135.55 L496.75,133.59 L497.00,131.20 L497.25,128.32 L497.50,124.91 L497.75,120.92 L498.00,116.37 L498.25,111.27 L498.50,105.67 L498.75,99.69 L499.00,93.46 L499.25,87.18 L499.50,81.04 L499.75,75.31 L500.00,70.21 L500.25,65.99 L500.50,62.85 L500.75,60.96 L501.00,60.41 L501.25,61.25 L501.50,63.43 L501.75,66.86 L502.00,71.38 L502.25,76.76 L502.50,82.77 L502.75,89.15 L503.00,95.66 L503.25,102.07 L503.50,108.17 L503.75,113.81 L504.00,118.87 L504.25,123.28 L504.50,127.01 L504.75,130.07 L505.00,132.49 L505.25,134.33 L505.50,135.69 L505.75,136.66 L506.00,137.33 L506.25,137.80 L506.50,138.15 L506.75,138.46 L507.00,138.78 L507.25,139.13 L507.50,139.52 L507.75,139.95 L508.00,140.39 L508.25,140.82 L508.50,141.22 L508.75,141.58 L509.00,141.88 L509.25,142.12 L509.50,142.30 L509.75,142.44 L510.00,142.53 L510.25,142.60 L510.50,142.64 L510.75,142.67 L511.00,142.68 L511.25,142.69 L511.50,142.70" fill="none" stroke="#8c1035" stroke-width="1.5" stroke-linejoin="round"/>
<rect x="424.0" y="55.6" width="87.80000000000001" height="87.4" fill="none" stroke="#000" stroke-width="1.5"/>
<line x1="420.0" y1="143.0" x2="424.0" y2="143.0" stroke="#000" stroke-width="1.2"/>
<line x1="421.8" y1="137.26" x2="424.0" y2="137.26" stroke="#000" stroke-width="1.0"/>
<line x1="421.8" y1="131.52" x2="424.0" y2="131.52" stroke="#000" stroke-width="1.0"/>
<line x1="421.8" y1="125.78" x2="424.0" y2="125.78" stroke="#000" stroke-width="1.0"/>
<line x1="421.8" y1="120.03999999999999" x2="424.0" y2="120.03999999999999" stroke="#000" stroke-width="1.0"/>
<line x1="420.0" y1="114.3" x2="424.0" y2="114.3" stroke="#000" stroke-width="1.2"/>
<line x1="421.8" y1="108.56" x2="424.0" y2="108.56" stroke="#000" stroke-width="1.0"/>
<line x1="421.8" y1="102.82" x2="424.0" y2="102.82" stroke="#000" stroke-width="1.0"/>
<line x1="421.8" y1="97.08" x2="424.0" y2="97.08" stroke="#000" stroke-width="1.0"/>
<line x1="421.8" y1="91.34" x2="424.0" y2="91.34" stroke="#000" stroke-width="1.0"/>
<line x1="420.0" y1="85.6" x2="424.0" y2="85.6" stroke="#000" stroke-width="1.2"/>
<line x1="421.8" y1="79.86" x2="424.0" y2="79.86" stroke="#000" stroke-width="1.0"/>
<line x1="421.8" y1="74.12" x2="424.0" y2="74.12" stroke="#000" stroke-width="1.0"/>
<line x1="421.8" y1="68.38" x2="424.0" y2="68.38" stroke="#000" stroke-width="1.0"/>
<line x1="421.8" y1="62.64" x2="424.0" y2="62.64" stroke="#000" stroke-width="1.0"/>
<line x1="420.0" y1="56.89999999999999" x2="424.0" y2="56.89999999999999" stroke="#000" stroke-width="1.2"/>
<line x1="441.0" y1="143.0" x2="441.0" y2="147.6" stroke="#000" stroke-width="1.1"/>
<line x1="425.9721449067756" y1="143.0" x2="425.9721449067756" y2="146.8" stroke="#000" stroke-width="1.0"/>
<line x1="429.75810697647273" y1="143.0" x2="429.75810697647273" y2="146.8" stroke="#000" stroke-width="1.0"/>
<line x1="432.44428981355117" y1="143.0" x2="432.44428981355117" y2="146.8" stroke="#000" stroke-width="1.0"/>
<line x1="434.5278550932244" y1="143.0" x2="434.5278550932244" y2="146.8" stroke="#000" stroke-width="1.0"/>
<line x1="436.23025188324834" y1="143.0" x2="436.23025188324834" y2="146.8" stroke="#000" stroke-width="1.0"/>
<line x1="437.66960786030654" y1="143.0" x2="437.66960786030654" y2="146.8" stroke="#000" stroke-width="1.0"/>
<line x1="438.9164347203268" y1="143.0" x2="438.9164347203268" y2="146.8" stroke="#000" stroke-width="1.0"/>
<line x1="440.01621395294546" y1="143.0" x2="440.01621395294546" y2="146.8" stroke="#000" stroke-width="1.0"/>
<line x1="462.5" y1="143.0" x2="462.5" y2="147.6" stroke="#000" stroke-width="1.1"/>
<line x1="447.4721449067756" y1="143.0" x2="447.4721449067756" y2="146.8" stroke="#000" stroke-width="1.0"/>
<line x1="451.25810697647273" y1="143.0" x2="451.25810697647273" y2="146.8" stroke="#000" stroke-width="1.0"/>
<line x1="453.94428981355117" y1="143.0" x2="453.94428981355117" y2="146.8" stroke="#000" stroke-width="1.0"/>
<line x1="456.0278550932244" y1="143.0" x2="456.0278550932244" y2="146.8" stroke="#000" stroke-width="1.0"/>
<line x1="457.73025188324834" y1="143.0" x2="457.73025188324834" y2="146.8" stroke="#000" stroke-width="1.0"/>
<line x1="459.16960786030654" y1="143.0" x2="459.16960786030654" y2="146.8" stroke="#000" stroke-width="1.0"/>
<line x1="460.4164347203268" y1="143.0" x2="460.4164347203268" y2="146.8" stroke="#000" stroke-width="1.0"/>
<line x1="461.51621395294546" y1="143.0" x2="461.51621395294546" y2="146.8" stroke="#000" stroke-width="1.0"/>
<line x1="484.0" y1="143.0" x2="484.0" y2="147.6" stroke="#000" stroke-width="1.1"/>
<line x1="468.9721449067756" y1="143.0" x2="468.9721449067756" y2="146.8" stroke="#000" stroke-width="1.0"/>
<line x1="472.75810697647273" y1="143.0" x2="472.75810697647273" y2="146.8" stroke="#000" stroke-width="1.0"/>
<line x1="475.44428981355117" y1="143.0" x2="475.44428981355117" y2="146.8" stroke="#000" stroke-width="1.0"/>
<line x1="477.5278550932244" y1="143.0" x2="477.5278550932244" y2="146.8" stroke="#000" stroke-width="1.0"/>
<line x1="479.23025188324834" y1="143.0" x2="479.23025188324834" y2="146.8" stroke="#000" stroke-width="1.0"/>
<line x1="480.66960786030654" y1="143.0" x2="480.66960786030654" y2="146.8" stroke="#000" stroke-width="1.0"/>
<line x1="481.9164347203268" y1="143.0" x2="481.9164347203268" y2="146.8" stroke="#000" stroke-width="1.0"/>
<line x1="483.01621395294546" y1="143.0" x2="483.01621395294546" y2="146.8" stroke="#000" stroke-width="1.0"/>
<line x1="505.5" y1="143.0" x2="505.5" y2="147.6" stroke="#000" stroke-width="1.1"/>
<line x1="490.4721449067756" y1="143.0" x2="490.4721449067756" y2="146.8" stroke="#000" stroke-width="1.0"/>
<line x1="494.25810697647273" y1="143.0" x2="494.25810697647273" y2="146.8" stroke="#000" stroke-width="1.0"/>
<line x1="496.94428981355117" y1="143.0" x2="496.94428981355117" y2="146.8" stroke="#000" stroke-width="1.0"/>
<line x1="499.0278550932244" y1="143.0" x2="499.0278550932244" y2="146.8" stroke="#000" stroke-width="1.0"/>
<line x1="500.73025188324834" y1="143.0" x2="500.73025188324834" y2="146.8" stroke="#000" stroke-width="1.0"/>
<line x1="502.16960786030654" y1="143.0" x2="502.16960786030654" y2="146.8" stroke="#000" stroke-width="1.0"/>
<line x1="503.4164347203268" y1="143.0" x2="503.4164347203268" y2="146.8" stroke="#000" stroke-width="1.0"/>
<line x1="504.51621395294546" y1="143.0" x2="504.51621395294546" y2="146.8" stroke="#000" stroke-width="1.0"/>
<line x1="439.6" y1="124.8" x2="490.6" y2="124.8" stroke="#2a2a2a" stroke-width="1.6"/>
<line x1="439.6" y1="121.3" x2="439.6" y2="128.3" stroke="#2a2a2a" stroke-width="1.4"/>
<line x1="490.6" y1="121.3" x2="490.6" y2="128.3" stroke="#2a2a2a" stroke-width="1.4"/>
<text x="453.5" y="117.5" font-size="9" text-anchor="start" font-weight="normal" fill="#2a2a2a" textLength="24.2" lengthAdjust="spacingAndGlyphs" >13.1%</text>
<text transform="translate(33.9,122) rotate(-90)" font-size="10" font-weight="bold" fill="#111" textLength="33.7" lengthAdjust="spacingAndGlyphs">Cell count</text>
<line x1="29.6" y1="139" x2="29.6" y2="157.6" stroke="#000" stroke-width="1.6"/>
<line x1="28.8" y1="157" x2="56" y2="157" stroke="#000" stroke-width="1.6"/>
<path d="M29.6,128.2 L34.4,141 L29.6,139 L24.8,141 Z" fill="#000"/>
<path d="M66.9,157 L54.4,152.3 L56.4,157 L54.4,161.7 Z" fill="#000"/>
<text x="70.8" y="159.7" font-size="10" text-anchor="start" font-weight="bold" fill="#111" textLength="18.4" lengthAdjust="spacingAndGlyphs" >Violet</text>
<line x1="75.3" y1="216.1" x2="75.3" y2="315.2" stroke="#000" stroke-width="1.5"/>
<line x1="71.8" y1="314.5" x2="218.0" y2="314.5" stroke="#000" stroke-width="1.5"/>
<line x1="71.3" y1="219.2" x2="75.3" y2="219.2" stroke="#000" stroke-width="1.3"/>
<text x="67.8" y="222" font-size="9" text-anchor="end" font-weight="normal" fill="#1a1a1a" >25</text>
<line x1="71.3" y1="238.3" x2="75.3" y2="238.3" stroke="#000" stroke-width="1.3"/>
<text x="67.8" y="241" font-size="9" text-anchor="end" font-weight="normal" fill="#1a1a1a" >20</text>
<line x1="71.3" y1="257.4" x2="75.3" y2="257.4" stroke="#000" stroke-width="1.3"/>
<text x="67.8" y="260" font-size="9" text-anchor="end" font-weight="normal" fill="#1a1a1a" >15</text>
<line x1="71.3" y1="276.4" x2="75.3" y2="276.4" stroke="#000" stroke-width="1.3"/>
<text x="67.8" y="279" font-size="9" text-anchor="end" font-weight="normal" fill="#1a1a1a" >10</text>
<line x1="71.3" y1="295.5" x2="75.3" y2="295.5" stroke="#000" stroke-width="1.3"/>
<text x="67.8" y="298" font-size="9" text-anchor="end" font-weight="normal" fill="#1a1a1a" >5</text>
<line x1="71.3" y1="314.5" x2="75.3" y2="314.5" stroke="#000" stroke-width="1.3"/>
<text x="67.8" y="317" font-size="9" text-anchor="end" font-weight="normal" fill="#1a1a1a" >0</text>
<line x1="99.2" y1="314.5" x2="99.2" y2="317.6" stroke="#000" stroke-width="1.2"/>
<line x1="146.7" y1="314.5" x2="146.7" y2="317.6" stroke="#000" stroke-width="1.2"/>
<line x1="194.2" y1="314.5" x2="194.2" y2="317.6" stroke="#000" stroke-width="1.2"/>
<text transform="translate(51.0,311.6) rotate(-90)" font-size="10" font-weight="bold" fill="#111" textLength="93.4" lengthAdjust="spacingAndGlyphs">% of daughter CD4<tspan font-size="6.5" dy="-2.6">+</tspan><tspan dy="2.6"> T cells</tspan></text>
<polyline points="99.2,288.95 146.7,250.81 194.2,274.45" fill="none" stroke="#900b31" stroke-width="1.7"/>
<polyline points="99.2,296.96 146.7,226.4 194.2,237.08" fill="none" stroke="#900b31" stroke-width="1.7"/>
<polyline points="99.2,303.06 146.7,231.35 194.2,248.9" fill="none" stroke="#900b31" stroke-width="1.7"/>
<polyline points="99.2,297.72 146.7,281.7 194.2,295.43" fill="none" stroke="#900b31" stroke-width="1.7"/>
<polyline points="99.2,306.11 146.7,283.61 194.2,298.1" fill="none" stroke="#900b31" stroke-width="1.7"/>
<polyline points="99.2,302.3 146.7,291.62 194.2,300.01" fill="none" stroke="#900b31" stroke-width="1.7"/>
<circle cx="99.2" cy="288.95" r="2.6" fill="#a8002e"/>
<rect x="144.1" y="248.21" width="5.2" height="5.2" fill="#a8002e"/>
<path d="M194.2,271.15 L197.39999999999998,276.75 L191.0,276.75 Z" fill="#a8002e"/>
<circle cx="99.2" cy="296.96" r="2.6" fill="#a8002e"/>
<rect x="144.1" y="223.8" width="5.2" height="5.2" fill="#a8002e"/>
<path d="M194.2,233.78 L197.39999999999998,239.38000000000002 L191.0,239.38000000000002 Z" fill="#a8002e"/>
<circle cx="99.2" cy="303.06" r="2.6" fill="#a8002e"/>
<rect x="144.1" y="228.75" width="5.2" height="5.2" fill="#a8002e"/>
<path d="M194.2,245.6 L197.39999999999998,251.20000000000002 L191.0,251.20000000000002 Z" fill="#a8002e"/>
<circle cx="99.2" cy="297.72" r="2.6" fill="#a8002e"/>
<rect x="144.1" y="279.09999999999997" width="5.2" height="5.2" fill="#a8002e"/>
<path d="M194.2,292.13 L197.39999999999998,297.73 L191.0,297.73 Z" fill="#a8002e"/>
<circle cx="99.2" cy="306.11" r="2.6" fill="#a8002e"/>
<rect x="144.1" y="281.01" width="5.2" height="5.2" fill="#a8002e"/>
<path d="M194.2,294.8 L197.39999999999998,300.40000000000003 L191.0,300.40000000000003 Z" fill="#a8002e"/>
<circle cx="99.2" cy="302.3" r="2.6" fill="#a8002e"/>
<rect x="144.1" y="289.02" width="5.2" height="5.2" fill="#a8002e"/>
<path d="M194.2,296.71 L197.39999999999998,302.31 L191.0,302.31 Z" fill="#a8002e"/>
<polyline points="95.8,217.4 95.8,207.8 146.0,207.8 146.0,217.4" fill="none" stroke="#000" stroke-width="1.4"/>
<polyline points="149.5,217.4 149.5,207.8 199.5,207.8 199.5,217.4" fill="none" stroke="#000" stroke-width="1.4"/>
<text x="107.0" y="201.9" font-size="8.8" font-style="italic" fill="#1a1a1a">P</text>
<polyline points="120.1,196.0 114.7,198.95000000000002 120.1,201.9" fill="none" stroke="#1a1a1a" stroke-width="0.95" stroke-linejoin="miter"/>
<text x="122.7" y="201.9" font-size="8.8" fill="#1a1a1a">.</text>
<text x="124.8" y="201.9" font-size="8.8" fill="#1a1a1a" textLength="9.9" lengthAdjust="spacingAndGlyphs">05</text>
<text x="160.6" y="201.9" font-size="8.8" font-style="italic" fill="#1a1a1a">P</text>
<polyline points="173.70000000000002,196.0 168.3,198.95000000000002 173.70000000000002,201.9" fill="none" stroke="#1a1a1a" stroke-width="0.95" stroke-linejoin="miter"/>
<text x="176.3" y="201.9" font-size="8.8" fill="#1a1a1a">.</text>
<text x="178.4" y="201.9" font-size="8.8" fill="#1a1a1a" textLength="8.7" lengthAdjust="spacingAndGlyphs">01</text>
<line x1="301.3" y1="216.1" x2="301.3" y2="315.2" stroke="#000" stroke-width="1.5"/>
<line x1="297.8" y1="314.5" x2="444.8" y2="314.5" stroke="#000" stroke-width="1.5"/>
<line x1="297.3" y1="219.2" x2="301.3" y2="219.2" stroke="#000" stroke-width="1.3"/>
<text x="293.8" y="222" font-size="9" text-anchor="end" font-weight="normal" fill="#1a1a1a" >40</text>
<line x1="297.3" y1="243.0" x2="301.3" y2="243.0" stroke="#000" stroke-width="1.3"/>
<text x="293.8" y="246" font-size="9" text-anchor="end" font-weight="normal" fill="#1a1a1a" >30</text>
<line x1="297.3" y1="266.8" x2="301.3" y2="266.8" stroke="#000" stroke-width="1.3"/>
<text x="293.8" y="269" font-size="9" text-anchor="end" font-weight="normal" fill="#1a1a1a" >20</text>
<line x1="297.3" y1="290.7" x2="301.3" y2="290.7" stroke="#000" stroke-width="1.3"/>
<text x="293.8" y="293" font-size="9" text-anchor="end" font-weight="normal" fill="#1a1a1a" >10</text>
<line x1="297.3" y1="314.5" x2="301.3" y2="314.5" stroke="#000" stroke-width="1.3"/>
<text x="293.8" y="317" font-size="9" text-anchor="end" font-weight="normal" fill="#1a1a1a" >0</text>
<line x1="325.0" y1="314.5" x2="325.0" y2="317.6" stroke="#000" stroke-width="1.2"/>
<line x1="372.6" y1="314.5" x2="372.6" y2="317.6" stroke="#000" stroke-width="1.2"/>
<line x1="420.2" y1="314.5" x2="420.2" y2="317.6" stroke="#000" stroke-width="1.2"/>
<text transform="translate(276.6,311.6) rotate(-90)" font-size="10" font-weight="bold" fill="#111" textLength="93.4" lengthAdjust="spacingAndGlyphs">% of daughter CD4<tspan font-size="6.5" dy="-2.6">+</tspan><tspan dy="2.6"> T cells</tspan></text>
<polyline points="325.0,308.3 372.6,230.14 420.2,253.02" fill="none" stroke="#900b31" stroke-width="1.7"/>
<polyline points="325.0,306.16 372.6,238.24 420.2,253.02" fill="none" stroke="#900b31" stroke-width="1.7"/>
<polyline points="325.0,302.58 372.6,268.51 420.2,280.9" fill="none" stroke="#900b31" stroke-width="1.7"/>
<polyline points="325.0,298.77 372.6,271.84 420.2,282.81" fill="none" stroke="#900b31" stroke-width="1.7"/>
<polyline points="325.0,304.49 372.6,276.13 420.2,296.39" fill="none" stroke="#900b31" stroke-width="1.7"/>
<polyline points="325.0,307.35 372.6,293.53 420.2,296.39" fill="none" stroke="#900b31" stroke-width="1.7"/>
<circle cx="325.0" cy="308.3" r="2.6" fill="#a8002e"/>
<rect x="370.0" y="227.54" width="5.2" height="5.2" fill="#a8002e"/>
<path d="M420.2,249.72 L423.4,255.32000000000002 L417.0,255.32000000000002 Z" fill="#a8002e"/>
<circle cx="325.0" cy="306.16" r="2.6" fill="#a8002e"/>
<rect x="370.0" y="235.64000000000001" width="5.2" height="5.2" fill="#a8002e"/>
<path d="M420.2,249.72 L423.4,255.32000000000002 L417.0,255.32000000000002 Z" fill="#a8002e"/>
<circle cx="325.0" cy="302.58" r="2.6" fill="#a8002e"/>
<rect x="370.0" y="265.90999999999997" width="5.2" height="5.2" fill="#a8002e"/>
<path d="M420.2,277.59999999999997 L423.4,283.2 L417.0,283.2 Z" fill="#a8002e"/>
<circle cx="325.0" cy="298.77" r="2.6" fill="#a8002e"/>
<rect x="370.0" y="269.23999999999995" width="5.2" height="5.2" fill="#a8002e"/>
<path d="M420.2,279.51 L423.4,285.11 L417.0,285.11 Z" fill="#a8002e"/>
<circle cx="325.0" cy="304.49" r="2.6" fill="#a8002e"/>
<rect x="370.0" y="273.53" width="5.2" height="5.2" fill="#a8002e"/>
<path d="M420.2,293.09 L423.4,298.69 L417.0,298.69 Z" fill="#a8002e"/>
<circle cx="325.0" cy="307.35" r="2.6" fill="#a8002e"/>
<rect x="370.0" y="290.92999999999995" width="5.2" height="5.2" fill="#a8002e"/>
<path d="M420.2,293.09 L423.4,298.69 L417.0,298.69 Z" fill="#a8002e"/>
<polyline points="318.8,223.2 318.8,215.8 368.9,215.8 368.9,223.2" fill="none" stroke="#000" stroke-width="1.4"/>
<polyline points="371.9,223.2 371.9,215.8 423.6,215.8 423.6,223.2" fill="none" stroke="#000" stroke-width="1.4"/>
<text x="329.59999999999997" y="209.8" font-size="8.8" font-style="italic" fill="#1a1a1a">P</text>
<polyline points="342.7,203.9 337.29999999999995,206.85000000000002 342.7,209.8" fill="none" stroke="#1a1a1a" stroke-width="0.95" stroke-linejoin="miter"/>
<text x="345.29999999999995" y="209.8" font-size="8.8" fill="#1a1a1a">.</text>
<text x="347.4" y="209.8" font-size="8.8" fill="#1a1a1a" textLength="8.7" lengthAdjust="spacingAndGlyphs">01</text>
<text x="383.9" y="209.8" font-size="8.8" font-style="italic" fill="#1a1a1a">P</text>
<polyline points="397.0,203.9 391.59999999999997,206.85000000000002 397.0,209.8" fill="none" stroke="#1a1a1a" stroke-width="0.95" stroke-linejoin="miter"/>
<text x="399.59999999999997" y="209.8" font-size="8.8" fill="#1a1a1a">.</text>
<text x="401.7" y="209.8" font-size="8.8" fill="#1a1a1a" textLength="9.1" lengthAdjust="spacingAndGlyphs">01</text>
<text x="76.7" y="329.8" font-size="9" text-anchor="end" font-weight="normal" fill="#1a1a1a" textLength="44.9" lengthAdjust="spacingAndGlyphs" >rhF8 (U/ml)</text>
<text x="76.7" y="343.5" font-size="9" text-anchor="end" font-weight="normal" fill="#1a1a1a" textLength="54.6" lengthAdjust="spacingAndGlyphs" >rhVWF (U/ml)</text>
<text x="99.2" y="329.8" font-size="9" text-anchor="middle" font-weight="normal" fill="#1a1a1a" >0</text>
<text x="99.2" y="343.5" font-size="9" text-anchor="middle" font-weight="normal" fill="#1a1a1a" >0</text>
<text x="146.7" y="329.8" font-size="9" text-anchor="middle" font-weight="normal" fill="#1a1a1a" >1</text>
<text x="146.7" y="343.5" font-size="9" text-anchor="middle" font-weight="normal" fill="#1a1a1a" >0</text>
<text x="194.2" y="329.8" font-size="9" text-anchor="middle" font-weight="normal" fill="#1a1a1a" >1</text>
<text x="194.2" y="343.5" font-size="9" text-anchor="middle" font-weight="normal" fill="#1a1a1a" >1</text>
<text x="303.8" y="329.2" font-size="9" text-anchor="end" font-weight="normal" fill="#1a1a1a" textLength="44.9" lengthAdjust="spacingAndGlyphs" >rhF8 (U/ml)</text>
<text x="303.8" y="343.0" font-size="9" text-anchor="end" font-weight="normal" fill="#1a1a1a" textLength="54.6" lengthAdjust="spacingAndGlyphs" >rhVWF (U/ml)</text>
<text x="325.0" y="329.2" font-size="9" text-anchor="middle" font-weight="normal" fill="#1a1a1a" >0</text>
<text x="325.0" y="343.0" font-size="9" text-anchor="middle" font-weight="normal" fill="#1a1a1a" >0</text>
<text x="372.6" y="329.2" font-size="9" text-anchor="middle" font-weight="normal" fill="#1a1a1a" >10</text>
<text x="372.6" y="343.0" font-size="9" text-anchor="middle" font-weight="normal" fill="#1a1a1a" >0</text>
<text x="420.2" y="329.2" font-size="9" text-anchor="middle" font-weight="normal" fill="#1a1a1a" >10</text>
<text x="420.2" y="343.0" font-size="9" text-anchor="middle" font-weight="normal" fill="#1a1a1a" >1</text>
<rect x="87.0" y="408.4" width="47.69999999999999" height="93.30000000000001" fill="#a8002e"/>
<rect x="158.2" y="435.9" width="47.80000000000001" height="65.80000000000001" fill="#2e4a7d"/>
<line x1="182.0" y1="435.9" x2="182.0" y2="421.8" stroke="#000" stroke-width="1.4"/>
<line x1="170.2" y1="421.8" x2="193.8" y2="421.8" stroke="#000" stroke-width="1.4"/>
<line x1="75.2" y1="405.6" x2="75.2" y2="502.4" stroke="#000" stroke-width="1.5"/>
<line x1="71.7" y1="501.7" x2="214.6" y2="501.7" stroke="#000" stroke-width="1.5"/>
<line x1="71.2" y1="408.8" x2="75.2" y2="408.8" stroke="#000" stroke-width="1.3"/>
<text x="67.5" y="411.90000000000003" font-size="8.7" text-anchor="end" font-weight="normal" fill="#1a1a1a" textLength="17.0" lengthAdjust="spacingAndGlyphs" >1.00</text>
<line x1="71.2" y1="432.0" x2="75.2" y2="432.0" stroke="#000" stroke-width="1.3"/>
<text x="67.5" y="435.1" font-size="8.7" text-anchor="end" font-weight="normal" fill="#1a1a1a" textLength="17.0" lengthAdjust="spacingAndGlyphs" >0.75</text>
<line x1="71.2" y1="455.1" x2="75.2" y2="455.1" stroke="#000" stroke-width="1.3"/>
<text x="67.5" y="458.20000000000005" font-size="8.7" text-anchor="end" font-weight="normal" fill="#1a1a1a" textLength="17.0" lengthAdjust="spacingAndGlyphs" >0.50</text>
<line x1="71.2" y1="478.3" x2="75.2" y2="478.3" stroke="#000" stroke-width="1.3"/>
<text x="67.5" y="481.40000000000003" font-size="8.7" text-anchor="end" font-weight="normal" fill="#1a1a1a" textLength="17.0" lengthAdjust="spacingAndGlyphs" >0.25</text>
<line x1="71.2" y1="501.5" x2="75.2" y2="501.5" stroke="#000" stroke-width="1.3"/>
<text x="67.5" y="504.6" font-size="8.7" text-anchor="end" font-weight="normal" fill="#1a1a1a" textLength="17.0" lengthAdjust="spacingAndGlyphs" >0.00</text>
<line x1="110.7" y1="501.7" x2="110.7" y2="505.0" stroke="#000" stroke-width="1.2"/>
<line x1="182.0" y1="501.7" x2="182.0" y2="505.0" stroke="#000" stroke-width="1.2"/>
<polyline points="107.3,404.2 107.3,395.0 179.2,395.0 179.2,404.2" fill="none" stroke="#000" stroke-width="1.3"/>
<text x="126.8" y="389.3" font-size="8.8" font-style="italic" fill="#1a1a1a">P</text>
<polyline points="139.9,383.40000000000003 134.5,386.35 139.9,389.3" fill="none" stroke="#1a1a1a" stroke-width="0.95" stroke-linejoin="miter"/>
<text x="142.5" y="389.3" font-size="8.8" fill="#1a1a1a">.</text>
<text x="144.6" y="389.3" font-size="8.8" fill="#1a1a1a" textLength="14.9" lengthAdjust="spacingAndGlyphs">005</text>
<text x="101.0" y="492.3" font-size="8.6" text-anchor="start" font-weight="normal" fill="#f6e4e8" textLength="19.3" lengthAdjust="spacingAndGlyphs" >n = 6</text>
<text x="172.2" y="492.3" font-size="8.6" text-anchor="start" font-weight="normal" fill="#e6ebf3" textLength="19.0" lengthAdjust="spacingAndGlyphs" >n = 6</text>
<text x="74.8" y="516.3" font-size="9" text-anchor="end" font-weight="normal" fill="#1a1a1a" textLength="44.6" lengthAdjust="spacingAndGlyphs" >rhF8 (U/ml)</text>
<text x="74.8" y="530.7" font-size="9" text-anchor="end" font-weight="normal" fill="#1a1a1a" textLength="54.8" lengthAdjust="spacingAndGlyphs" >rhVWF (U/ml)</text>
<text x="110.7" y="516.3" font-size="9" text-anchor="middle" font-weight="normal" fill="#1a1a1a" >1</text>
<text x="182.0" y="516.3" font-size="9" text-anchor="middle" font-weight="normal" fill="#1a1a1a" >1</text>
<text x="110.7" y="530.7" font-size="9" text-anchor="middle" font-weight="normal" fill="#1a1a1a" >0</text>
<text x="182.0" y="530.7" font-size="9" text-anchor="middle" font-weight="normal" fill="#1a1a1a" >1</text>
<text transform="translate(30.5,482.3) rotate(-90)" font-size="10" font-weight="bold" fill="#111" textLength="56.6" lengthAdjust="spacingAndGlyphs">Normalized % of</text>
<text transform="translate(42.9,489.4) rotate(-90)" font-size="10" font-weight="bold" fill="#111" textLength="74.7" lengthAdjust="spacingAndGlyphs">daughter CD4<tspan font-size="6.5" dy="-2.6">+</tspan><tspan dy="2.6"> T cells</tspan></text>
<rect x="313.1" y="408.4" width="47.39999999999998" height="93.30000000000001" fill="#a8002e"/>
<rect x="384.7" y="432.9" width="47.30000000000001" height="68.80000000000001" fill="#2e4a7d"/>
<line x1="408.3" y1="432.9" x2="408.3" y2="421.3" stroke="#000" stroke-width="1.4"/>
<line x1="396.0" y1="421.3" x2="420.5" y2="421.3" stroke="#000" stroke-width="1.4"/>
<line x1="301.1" y1="405.6" x2="301.1" y2="502.4" stroke="#000" stroke-width="1.5"/>
<line x1="297.6" y1="501.7" x2="441.0" y2="501.7" stroke="#000" stroke-width="1.5"/>
<line x1="297.1" y1="408.8" x2="301.1" y2="408.8" stroke="#000" stroke-width="1.3"/>
<text x="293.5" y="411.90000000000003" font-size="8.7" text-anchor="end" font-weight="normal" fill="#1a1a1a" textLength="17.0" lengthAdjust="spacingAndGlyphs" >1.00</text>
<line x1="297.1" y1="432.0" x2="301.1" y2="432.0" stroke="#000" stroke-width="1.3"/>
<text x="293.5" y="435.1" font-size="8.7" text-anchor="end" font-weight="normal" fill="#1a1a1a" textLength="17.0" lengthAdjust="spacingAndGlyphs" >0.75</text>
<line x1="297.1" y1="455.1" x2="301.1" y2="455.1" stroke="#000" stroke-width="1.3"/>
<text x="293.5" y="458.20000000000005" font-size="8.7" text-anchor="end" font-weight="normal" fill="#1a1a1a" textLength="17.0" lengthAdjust="spacingAndGlyphs" >0.50</text>
<line x1="297.1" y1="478.3" x2="301.1" y2="478.3" stroke="#000" stroke-width="1.3"/>
<text x="293.5" y="481.40000000000003" font-size="8.7" text-anchor="end" font-weight="normal" fill="#1a1a1a" textLength="17.0" lengthAdjust="spacingAndGlyphs" >0.25</text>
<line x1="297.1" y1="501.5" x2="301.1" y2="501.5" stroke="#000" stroke-width="1.3"/>
<text x="293.5" y="504.6" font-size="8.7" text-anchor="end" font-weight="normal" fill="#1a1a1a" textLength="17.0" lengthAdjust="spacingAndGlyphs" >0.00</text>
<line x1="337.1" y1="501.7" x2="337.1" y2="505.0" stroke="#000" stroke-width="1.2"/>
<line x1="408.2" y1="501.7" x2="408.2" y2="505.0" stroke="#000" stroke-width="1.2"/>
<polyline points="334.0,402.5 334.0,394.6 408.0,394.6 408.0,402.5" fill="none" stroke="#000" stroke-width="1.3"/>
<text x="353.8" y="389.3" font-size="8.8" font-style="italic" fill="#1a1a1a">P</text>
<polyline points="366.90000000000003,383.40000000000003 361.5,386.35 366.90000000000003,389.3" fill="none" stroke="#1a1a1a" stroke-width="0.95" stroke-linejoin="miter"/>
<text x="369.5" y="389.3" font-size="8.8" fill="#1a1a1a">.</text>
<text x="371.6" y="389.3" font-size="8.8" fill="#1a1a1a" textLength="16.2" lengthAdjust="spacingAndGlyphs">005</text>
<text x="326.5" y="496.1" font-size="8.6" text-anchor="start" font-weight="normal" fill="#f6e4e8" textLength="21.0" lengthAdjust="spacingAndGlyphs" >n = 6</text>
<text x="397.9" y="496.1" font-size="8.6" text-anchor="start" font-weight="normal" fill="#e6ebf3" textLength="20.2" lengthAdjust="spacingAndGlyphs" >n = 6</text>
<text x="300.8" y="516.3" font-size="9" text-anchor="end" font-weight="normal" fill="#1a1a1a" textLength="44.6" lengthAdjust="spacingAndGlyphs" >rhF8 (U/ml)</text>
<text x="300.8" y="530.7" font-size="9" text-anchor="end" font-weight="normal" fill="#1a1a1a" textLength="54.8" lengthAdjust="spacingAndGlyphs" >rhVWF (U/ml)</text>
<text x="337.1" y="516.3" font-size="9" text-anchor="middle" font-weight="normal" fill="#1a1a1a" >10</text>
<text x="408.2" y="516.3" font-size="9" text-anchor="middle" font-weight="normal" fill="#1a1a1a" >10</text>
<text x="337.1" y="530.7" font-size="9" text-anchor="middle" font-weight="normal" fill="#1a1a1a" >0</text>
<text x="408.2" y="530.7" font-size="9" text-anchor="middle" font-weight="normal" fill="#1a1a1a" >1</text>
<text transform="translate(256.8,482.3) rotate(-90)" font-size="10" font-weight="bold" fill="#111" textLength="56.6" lengthAdjust="spacingAndGlyphs">Normalized % of</text>
<text transform="translate(269.3,489.4) rotate(-90)" font-size="10" font-weight="bold" fill="#111" textLength="74.7" lengthAdjust="spacingAndGlyphs">daughter CD4<tspan font-size="6.5" dy="-2.6">+</tspan><tspan dy="2.6"> T cells</tspan></text>
</svg>
</body></html>
